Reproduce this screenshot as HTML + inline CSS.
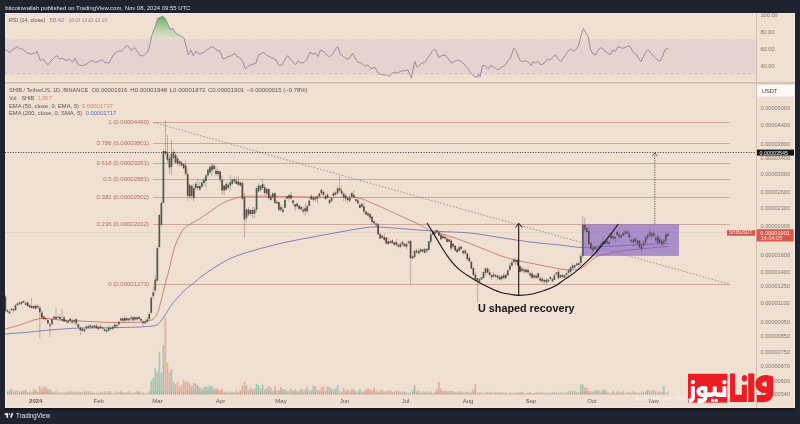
<!DOCTYPE html>
<html><head><meta charset="utf-8"><style>
html,body{margin:0;padding:0;}
body{width:800px;height:424px;overflow:hidden;background:#1f222f;position:relative;font-family:"Liberation Sans",Arial,sans-serif;}
svg{position:absolute;left:0;top:0;}
.hdr{font-size:5.95px;fill:#e2e3e8;}
.leg{font-size:5.9px;fill:#5e5650;}
.fib{font-size:6px;fill:#b56c66;}
.pax{font-size:5.6px;fill:#827770;}
.tax{font-size:6px;fill:#5e5650;}
</style></head><body>
<svg width="800" height="424" viewBox="0 0 800 424">
<defs>
<linearGradient id="rg" x1="0" y1="0" x2="0" y2="1"><stop offset="0" stop-color="#4fa855" stop-opacity="0.92"/><stop offset="1" stop-color="#b8dcb2" stop-opacity="0.25"/></linearGradient>
<clipPath id="mainclip"><rect x="5" y="83" width="751.5" height="312"/></clipPath>
</defs>
<rect x="0" y="0" width="800" height="424" fill="#1f222f"/>
<text x="5.2" y="9.8" textLength="185.2" lengthAdjust="spacingAndGlyphs" class="hdr">bitcoinwallah published on TradingView.com, Nov 08, 2024 09:55 UTC</text>
<rect x="5" y="13" width="790" height="395" fill="#f0e0d2"/>
<rect x="5.5" y="13.5" width="789" height="394" fill="none" stroke="#f5e9de" stroke-width="1"/>
<rect x="5" y="408" width="790" height="2.5" fill="#18191e"/>
<!-- RSI pane -->
<rect x="5" y="39.4" width="751.5" height="34.6" fill="#e4d4cf"/>
<line x1="5" y1="39.4" x2="756" y2="39.4" stroke="#dccabf" stroke-width="0.6" stroke-dasharray="2,4"/>

<line x1="5" y1="74" x2="756" y2="74" stroke="#cdb5ab" stroke-width="0.9" stroke-dasharray="2,4"/>
<path d="M148.6,39.4 L148.6,39.4 L151.9,35.1 L155.2,26.9 L157.7,18.6 L161.0,17.0 L162.7,16.1 L165.1,18.6 L167.6,23.6 L170.1,29.3 L172.6,28.5 L175.9,33.5 L177.5,34.3 L180.8,35.9 L184.1,38.4 L185.8,39.4 L186,39.4 Z" fill="url(#rg)"/>
<path d="M5.0,50.0 L6.6,50.0 L9.1,52.4 L12.4,50.0 L17.3,46.7 L19.8,49.1 L21.5,48.3 L26.4,52.4 L30.5,54.0 L34.7,53.3 L37.1,51.6 L40.4,60.7 L42.9,59.0 L47.9,64.8 L52.8,59.0 L56.9,55.7 L59.4,59.0 L62.7,58.2 L66.0,60.7 L69.3,59.0 L72.6,62.3 L75.1,58.2 L78.4,64.8 L82.5,65.6 L86.6,64.0 L89.9,61.5 L92.4,60.7 L94.9,62.3 L98.3,61.5 L102.4,59.9 L104.9,62.3 L109.0,63.2 L111.5,58.2 L114.0,54.1 L117.3,51.6 L119.8,50.8 L121.4,51.6 L123.9,48.3 L127.2,45.8 L129.7,47.5 L131.3,50.8 L134.6,47.5 L139.6,54.9 L142.9,56.2 L146.2,53.3 L148.6,50.0 L151.9,35.1 L155.2,26.9 L157.7,18.6 L161.0,17.0 L162.7,16.1 L165.1,18.6 L167.6,23.6 L170.1,29.3 L172.6,28.5 L175.9,33.5 L177.5,34.3 L180.8,35.9 L184.1,38.4 L185.8,45.0 L188.2,54.9 L190.7,49.9 L193.3,55.7 L195.8,51.6 L199.9,54.1 L204.9,51.6 L209.0,48.3 L212.3,46.7 L214.8,48.3 L217.2,50.8 L219.7,50.8 L223.0,59.0 L225.5,58.2 L228.0,56.6 L231.3,55.7 L234.6,53.3 L237.0,56.6 L239.5,57.4 L242.8,61.5 L245.3,68.9 L247.8,66.5 L251.1,64.8 L256.0,63.2 L258.5,54.9 L263.4,52.4 L267.6,55.7 L270.9,57.4 L275.8,59.9 L279.1,65.6 L282.4,64.8 L285.7,58.2 L287.5,55.7 L291.6,60.7 L295.7,64.8 L298.2,60.7 L300.7,63.2 L304.0,62.3 L307.3,59.0 L309.8,52.4 L313.0,54.1 L315.5,53.3 L318.0,56.6 L320.5,50.0 L323.8,51.6 L327.1,55.7 L329.6,56.6 L332.9,54.1 L335.3,49.1 L337.8,46.7 L340.3,54.1 L343.6,56.6 L346.9,59.0 L349.4,58.2 L352.7,53.3 L355.1,58.2 L358.4,62.3 L361.7,63.2 L365.0,66.5 L367.5,64.8 L370.8,68.9 L374.9,67.3 L379.0,73.9 L382.4,74.7 L387.4,75.2 L389.9,76.4 L392.4,73.0 L395.7,72.2 L397.3,73.0 L400.6,71.4 L403.1,70.6 L405.6,70.6 L408.0,69.8 L411.4,78.0 L414.7,61.5 L417.1,67.3 L420.4,64.0 L424.6,62.3 L428.7,56.6 L432.0,51.6 L434.5,49.1 L436.1,50.8 L438.6,57.4 L441.9,55.7 L445.2,54.9 L447.7,58.2 L451.8,63.2 L454.3,61.5 L457.6,59.9 L460.9,61.5 L464.2,64.0 L467.5,68.1 L470.8,73.0 L474.1,76.4 L477.4,77.2 L478.3,73.9 L480.0,77.2 L482.4,65.6 L484.9,65.6 L488.2,68.9 L490.7,65.6 L494.0,67.3 L498.1,69.8 L501.4,67.3 L504.7,65.6 L508.0,60.7 L510.5,58.2 L513.8,48.3 L516.3,50.8 L519.6,59.9 L522.0,61.5 L525.3,60.7 L528.6,62.3 L531.1,65.6 L532.8,61.5 L535.2,63.2 L537.7,61.5 L541.0,64.8 L544.3,63.2 L547.6,59.0 L550.1,59.9 L552.6,57.4 L555.0,54.9 L557.5,58.2 L560.8,61.5 L564.9,55.7 L568.2,50.8 L571.7,49.1 L574.1,51.6 L578.3,46.7 L580.7,36.8 L583.2,28.5 L585.7,32.6 L588.2,36.8 L590.6,50.0 L593.1,54.1 L595.6,54.9 L598.0,50.0 L601.4,47.5 L604.7,50.8 L608.0,53.3 L610.4,54.6 L612.9,50.0 L615.4,51.6 L617.9,46.7 L620.3,47.5 L622.8,48.3 L625.3,47.5 L627.8,45.8 L630.2,46.7 L633.5,52.4 L636.8,54.9 L638.5,58.2 L641.0,61.5 L643.4,56.6 L646.7,50.8 L648.4,50.0 L651.7,54.1 L655.8,58.2 L660.0,61.5 L662.4,56.6 L664.9,50.0 L667.4,48.3 L668.5,49.5" fill="none" stroke="#8a7a95" stroke-width="0.8" stroke-linejoin="round"/>
<text x="9.1" y="22" textLength="35.9" lengthAdjust="spacingAndGlyphs" class="leg">RSI (14, close)</text><text x="49.5" y="22" textLength="14.7" lengthAdjust="spacingAndGlyphs" class="leg" style="fill:#8a78aa">58.42</text><text x="68.5" y="21.8" textLength="38.0" lengthAdjust="spacingAndGlyphs" class="leg" style="font-size:5px;fill:#766c66">∅ ∅ ∅ ∅ ∅ ∅</text>
<line x1="5" y1="82.8" x2="795" y2="82.8" stroke="#c6b2a6" stroke-width="1.3"/>
<!-- price axis -->
<line x1="756.5" y1="13" x2="756.5" y2="408" stroke="#cdb9ad" stroke-width="0.8"/>
<text x="760.5" y="16.8" class="pax">100.00</text><text x="760.5" y="33.8" class="pax">80.00</text><text x="760.5" y="50.8" class="pax">60.00</text><text x="760.5" y="67.8" class="pax">40.00</text>
<rect x="757.5" y="85" width="36.5" height="11.5" fill="#fcf9f6"/>
<text x="762" y="92.6" class="pax" style="fill:#3a3330">USDT</text>
<text x="760.5" y="110.4" class="pax">0.00005000</text><text x="760.5" y="126.8" class="pax">0.00004400</text><text x="760.5" y="145.6" class="pax">0.00003800</text><text x="760.5" y="159.9" class="pax">0.00003400</text><text x="760.5" y="176.0" class="pax">0.00003000</text><text x="760.5" y="194.3" class="pax">0.00002600</text><text x="760.5" y="210.1" class="pax">0.00002300</text><text x="760.5" y="228.0" class="pax">0.00002000</text><text x="760.5" y="256.7" class="pax">0.00001600</text><text x="760.5" y="273.8" class="pax">0.00001400</text><text x="760.5" y="288.4" class="pax">0.00001250</text><text x="760.5" y="304.8" class="pax">0.00001100</text><text x="760.5" y="323.6" class="pax">0.00000950</text><text x="760.5" y="337.9" class="pax">0.00000850</text><text x="760.5" y="354.0" class="pax">0.00000750</text><text x="760.5" y="368.4" class="pax">0.00000670</text><text x="760.5" y="382.6" class="pax">0.00000600</text><text x="760.5" y="396.1" class="pax">0.00000540</text>
<!-- main legend -->
<text x="8.9" y="92.4" textLength="79.3" lengthAdjust="spacingAndGlyphs" class="leg">SHIB / TetherUS, 1D, BINANCE</text><text x="91.5" y="92.4" textLength="35.8" lengthAdjust="spacingAndGlyphs" class="leg">O0.00001916</text><text x="130.2" y="92.4" textLength="37.1" lengthAdjust="spacingAndGlyphs" class="leg">H0.00001948</text><text x="169.6" y="92.4" textLength="35.9" lengthAdjust="spacingAndGlyphs" class="leg">L0.00001872</text><text x="207.9" y="92.4" textLength="36.3" lengthAdjust="spacingAndGlyphs" class="leg">C0.00001901</text><text x="246.8" y="92.4" textLength="60.8" lengthAdjust="spacingAndGlyphs" class="leg">−0.00000015 (−0.78%)</text>
<text x="8.9" y="100.1" textLength="25.3" lengthAdjust="spacingAndGlyphs" class="leg">Vol · SHIB</text><text x="37.9" y="100.1" textLength="14.4" lengthAdjust="spacingAndGlyphs" class="leg" style="fill:#d9847a">1.99 T</text>
<text x="8.9" y="107.7" textLength="70.1" lengthAdjust="spacingAndGlyphs" class="leg">EMA (50, close, 0, EMA, 5)</text><text x="81.9" y="107.7" textLength="31.1" lengthAdjust="spacingAndGlyphs" class="leg" style="fill:#d9847a">0.00001737</text>
<text x="8.9" y="115.4" textLength="73.3" lengthAdjust="spacingAndGlyphs" class="leg">EMA (200, close, 0, SMA, 5)</text><text x="85.7" y="115.4" textLength="30.5" lengthAdjust="spacingAndGlyphs" class="leg" style="fill:#5b6bc0">0.00001717</text>
<!-- last price line -->
<line x1="5" y1="232.5" x2="756" y2="232.5" stroke="#e3d0c3" stroke-width="0.8"/>
<!-- fib -->
<line x1="153" y1="122.5" x2="730" y2="122.5" stroke="#c0968b" stroke-width="0.75"/><text x="149" y="124.3" text-anchor="end" class="fib">1 (0.00004490)</text><line x1="153" y1="143.5" x2="730" y2="143.5" stroke="#c0968b" stroke-width="0.75"/><text x="149" y="145.3" text-anchor="end" class="fib">0.786 (0.00003801)</text><line x1="153" y1="163.5" x2="730" y2="163.5" stroke="#c0968b" stroke-width="0.75"/><text x="149" y="165.3" text-anchor="end" class="fib">0.618 (0.00003261)</text><line x1="153" y1="179.5" x2="730" y2="179.5" stroke="#c0968b" stroke-width="0.75"/><text x="149" y="181.3" text-anchor="end" class="fib">0.5 (0.00002881)</text><line x1="153" y1="197.5" x2="730" y2="197.5" stroke="#c0968b" stroke-width="0.75"/><text x="149" y="199.3" text-anchor="end" class="fib">0.382 (0.00002502)</text><line x1="153" y1="224.5" x2="730" y2="224.5" stroke="#c0968b" stroke-width="0.75"/><text x="149" y="226.3" text-anchor="end" class="fib">0.236 (0.00002032)</text><line x1="153" y1="284.5" x2="730" y2="284.5" stroke="#c0968b" stroke-width="0.75"/><text x="149" y="286.3" text-anchor="end" class="fib">0 (0.00001273)</text>
<g clip-path="url(#mainclip)">
<!-- volume -->
<rect x="6.49" y="390.28" width="1.8" height="4.22" fill="#bfc4b4" opacity="0.85"/>
<rect x="6.99" y="392.39" width="0.8" height="2.11" fill="#a39186" opacity="0.6"/>
<rect x="8.51" y="389.94" width="1.8" height="4.56" fill="#98c4b3" opacity="0.85"/>
<rect x="9.01" y="392.22" width="0.8" height="2.28" fill="#a39186" opacity="0.6"/>
<rect x="10.54" y="388.64" width="1.8" height="5.86" fill="#e5a899" opacity="0.85"/>
<rect x="11.04" y="391.57" width="0.8" height="2.93" fill="#a39186" opacity="0.6"/>
<rect x="12.56" y="390.47" width="1.8" height="4.03" fill="#bfc4b4" opacity="0.85"/>
<rect x="13.06" y="392.48" width="0.8" height="2.02" fill="#a39186" opacity="0.6"/>
<rect x="14.59" y="390.39" width="1.8" height="4.11" fill="#bfc4b4" opacity="0.85"/>
<rect x="15.09" y="392.45" width="0.8" height="2.05" fill="#a39186" opacity="0.6"/>
<rect x="16.62" y="390.19" width="1.8" height="4.31" fill="#bfc4b4" opacity="0.85"/>
<rect x="17.12" y="392.34" width="0.8" height="2.16" fill="#a39186" opacity="0.6"/>
<rect x="18.64" y="391.69" width="1.8" height="2.81" fill="#bfc4b4" opacity="0.85"/>
<rect x="19.14" y="393.10" width="0.8" height="1.40" fill="#a39186" opacity="0.6"/>
<rect x="20.67" y="390.62" width="1.8" height="3.88" fill="#d9b2a4" opacity="0.85"/>
<rect x="21.17" y="392.56" width="0.8" height="1.94" fill="#a39186" opacity="0.6"/>
<rect x="22.69" y="390.30" width="1.8" height="4.20" fill="#d9b2a4" opacity="0.85"/>
<rect x="23.19" y="392.40" width="0.8" height="2.10" fill="#a39186" opacity="0.6"/>
<rect x="24.72" y="389.86" width="1.8" height="4.64" fill="#98c4b3" opacity="0.85"/>
<rect x="25.22" y="392.18" width="0.8" height="2.32" fill="#a39186" opacity="0.6"/>
<rect x="26.75" y="392.22" width="1.8" height="2.28" fill="#d9b2a4" opacity="0.85"/>
<rect x="27.25" y="393.36" width="0.8" height="1.14" fill="#a39186" opacity="0.6"/>
<rect x="28.77" y="391.61" width="1.8" height="2.89" fill="#d9b2a4" opacity="0.85"/>
<rect x="29.27" y="393.05" width="0.8" height="1.45" fill="#a39186" opacity="0.6"/>
<rect x="30.80" y="392.15" width="1.8" height="2.35" fill="#d9b2a4" opacity="0.85"/>
<rect x="31.30" y="393.32" width="0.8" height="1.18" fill="#a39186" opacity="0.6"/>
<rect x="32.82" y="389.39" width="1.8" height="5.11" fill="#e5a899" opacity="0.85"/>
<rect x="33.32" y="391.94" width="0.8" height="2.56" fill="#a39186" opacity="0.6"/>
<rect x="34.85" y="389.49" width="1.8" height="5.01" fill="#98c4b3" opacity="0.85"/>
<rect x="35.35" y="392.00" width="0.8" height="2.50" fill="#a39186" opacity="0.6"/>
<rect x="36.88" y="391.83" width="1.8" height="2.67" fill="#d9b2a4" opacity="0.85"/>
<rect x="37.38" y="393.17" width="0.8" height="1.33" fill="#a39186" opacity="0.6"/>
<rect x="38.90" y="386.00" width="1.8" height="8.50" fill="#e5a899" opacity="0.85"/>
<rect x="39.40" y="391.50" width="0.8" height="3.00" fill="#a39186" opacity="0.6"/>
<rect x="40.93" y="389.00" width="1.8" height="5.50" fill="#e5a899" opacity="0.85"/>
<rect x="41.43" y="391.75" width="0.8" height="2.75" fill="#a39186" opacity="0.6"/>
<rect x="42.95" y="386.83" width="1.8" height="7.67" fill="#e5a899" opacity="0.85"/>
<rect x="43.45" y="391.50" width="0.8" height="3.00" fill="#a39186" opacity="0.6"/>
<rect x="44.98" y="386.91" width="1.8" height="7.59" fill="#e5a899" opacity="0.85"/>
<rect x="45.48" y="391.50" width="0.8" height="3.00" fill="#a39186" opacity="0.6"/>
<rect x="47.01" y="388.79" width="1.8" height="5.71" fill="#e5a899" opacity="0.85"/>
<rect x="47.51" y="391.64" width="0.8" height="2.86" fill="#a39186" opacity="0.6"/>
<rect x="49.03" y="389.34" width="1.8" height="5.16" fill="#98c4b3" opacity="0.85"/>
<rect x="49.53" y="391.92" width="0.8" height="2.58" fill="#a39186" opacity="0.6"/>
<rect x="51.06" y="391.50" width="1.8" height="3.00" fill="#bfc4b4" opacity="0.85"/>
<rect x="51.56" y="393.00" width="0.8" height="1.50" fill="#a39186" opacity="0.6"/>
<rect x="53.08" y="392.24" width="1.8" height="2.26" fill="#d9b2a4" opacity="0.85"/>
<rect x="53.58" y="393.37" width="0.8" height="1.13" fill="#a39186" opacity="0.6"/>
<rect x="55.11" y="390.74" width="1.8" height="3.76" fill="#bfc4b4" opacity="0.85"/>
<rect x="55.61" y="392.62" width="0.8" height="1.88" fill="#a39186" opacity="0.6"/>
<rect x="57.14" y="392.49" width="1.8" height="2.01" fill="#bfc4b4" opacity="0.85"/>
<rect x="57.64" y="393.50" width="0.8" height="1.00" fill="#a39186" opacity="0.6"/>
<rect x="59.16" y="392.34" width="1.8" height="2.16" fill="#d9b2a4" opacity="0.85"/>
<rect x="59.66" y="393.42" width="0.8" height="1.08" fill="#a39186" opacity="0.6"/>
<rect x="61.19" y="392.22" width="1.8" height="2.28" fill="#bfc4b4" opacity="0.85"/>
<rect x="61.69" y="393.36" width="0.8" height="1.14" fill="#a39186" opacity="0.6"/>
<rect x="63.21" y="392.80" width="1.8" height="1.70" fill="#d9b2a4" opacity="0.85"/>
<rect x="63.71" y="393.65" width="0.8" height="0.85" fill="#a39186" opacity="0.6"/>
<rect x="65.24" y="391.67" width="1.8" height="2.83" fill="#bfc4b4" opacity="0.85"/>
<rect x="65.74" y="393.09" width="0.8" height="1.41" fill="#a39186" opacity="0.6"/>
<rect x="67.27" y="391.76" width="1.8" height="2.74" fill="#bfc4b4" opacity="0.85"/>
<rect x="67.77" y="393.13" width="0.8" height="1.37" fill="#a39186" opacity="0.6"/>
<rect x="69.29" y="390.74" width="1.8" height="3.76" fill="#d9b2a4" opacity="0.85"/>
<rect x="69.79" y="392.62" width="0.8" height="1.88" fill="#a39186" opacity="0.6"/>
<rect x="71.32" y="391.60" width="1.8" height="2.90" fill="#bfc4b4" opacity="0.85"/>
<rect x="71.82" y="393.05" width="0.8" height="1.45" fill="#a39186" opacity="0.6"/>
<rect x="73.34" y="391.32" width="1.8" height="3.18" fill="#bfc4b4" opacity="0.85"/>
<rect x="73.84" y="392.91" width="0.8" height="1.59" fill="#a39186" opacity="0.6"/>
<rect x="75.37" y="391.70" width="1.8" height="2.80" fill="#d9b2a4" opacity="0.85"/>
<rect x="75.87" y="393.10" width="0.8" height="1.40" fill="#a39186" opacity="0.6"/>
<rect x="77.40" y="391.32" width="1.8" height="3.18" fill="#d9b2a4" opacity="0.85"/>
<rect x="77.90" y="392.91" width="0.8" height="1.59" fill="#a39186" opacity="0.6"/>
<rect x="79.42" y="391.86" width="1.8" height="2.64" fill="#d9b2a4" opacity="0.85"/>
<rect x="79.92" y="393.18" width="0.8" height="1.32" fill="#a39186" opacity="0.6"/>
<rect x="81.45" y="392.32" width="1.8" height="2.18" fill="#d9b2a4" opacity="0.85"/>
<rect x="81.95" y="393.41" width="0.8" height="1.09" fill="#a39186" opacity="0.6"/>
<rect x="83.47" y="390.60" width="1.8" height="3.90" fill="#bfc4b4" opacity="0.85"/>
<rect x="83.97" y="392.55" width="0.8" height="1.95" fill="#a39186" opacity="0.6"/>
<rect x="85.50" y="390.64" width="1.8" height="3.86" fill="#bfc4b4" opacity="0.85"/>
<rect x="86.00" y="392.57" width="0.8" height="1.93" fill="#a39186" opacity="0.6"/>
<rect x="87.53" y="391.05" width="1.8" height="3.45" fill="#bfc4b4" opacity="0.85"/>
<rect x="88.03" y="392.77" width="0.8" height="1.73" fill="#a39186" opacity="0.6"/>
<rect x="89.55" y="391.39" width="1.8" height="3.11" fill="#d9b2a4" opacity="0.85"/>
<rect x="90.05" y="392.95" width="0.8" height="1.55" fill="#a39186" opacity="0.6"/>
<rect x="91.58" y="392.34" width="1.8" height="2.16" fill="#bfc4b4" opacity="0.85"/>
<rect x="92.08" y="393.42" width="0.8" height="1.08" fill="#a39186" opacity="0.6"/>
<rect x="93.60" y="392.56" width="1.8" height="1.94" fill="#bfc4b4" opacity="0.85"/>
<rect x="94.10" y="393.53" width="0.8" height="0.97" fill="#a39186" opacity="0.6"/>
<rect x="95.63" y="392.44" width="1.8" height="2.06" fill="#d9b2a4" opacity="0.85"/>
<rect x="96.13" y="393.47" width="0.8" height="1.03" fill="#a39186" opacity="0.6"/>
<rect x="97.66" y="392.96" width="1.8" height="1.54" fill="#d9b2a4" opacity="0.85"/>
<rect x="98.16" y="393.73" width="0.8" height="0.77" fill="#a39186" opacity="0.6"/>
<rect x="99.68" y="391.40" width="1.8" height="3.10" fill="#d9b2a4" opacity="0.85"/>
<rect x="100.18" y="392.95" width="0.8" height="1.55" fill="#a39186" opacity="0.6"/>
<rect x="101.71" y="392.21" width="1.8" height="2.29" fill="#bfc4b4" opacity="0.85"/>
<rect x="102.21" y="393.36" width="0.8" height="1.14" fill="#a39186" opacity="0.6"/>
<rect x="103.73" y="391.19" width="1.8" height="3.31" fill="#bfc4b4" opacity="0.85"/>
<rect x="104.23" y="392.84" width="0.8" height="1.66" fill="#a39186" opacity="0.6"/>
<rect x="105.76" y="392.23" width="1.8" height="2.27" fill="#bfc4b4" opacity="0.85"/>
<rect x="106.26" y="393.36" width="0.8" height="1.14" fill="#a39186" opacity="0.6"/>
<rect x="107.79" y="390.91" width="1.8" height="3.59" fill="#bfc4b4" opacity="0.85"/>
<rect x="108.29" y="392.70" width="0.8" height="1.80" fill="#a39186" opacity="0.6"/>
<rect x="109.81" y="391.15" width="1.8" height="3.35" fill="#bfc4b4" opacity="0.85"/>
<rect x="110.31" y="392.82" width="0.8" height="1.68" fill="#a39186" opacity="0.6"/>
<rect x="111.84" y="393.09" width="1.8" height="1.41" fill="#bfc4b4" opacity="0.85"/>
<rect x="112.34" y="393.79" width="0.8" height="0.71" fill="#a39186" opacity="0.6"/>
<rect x="113.86" y="392.60" width="1.8" height="1.90" fill="#bfc4b4" opacity="0.85"/>
<rect x="114.36" y="393.55" width="0.8" height="0.95" fill="#a39186" opacity="0.6"/>
<rect x="115.89" y="390.96" width="1.8" height="3.54" fill="#bfc4b4" opacity="0.85"/>
<rect x="116.39" y="392.73" width="0.8" height="1.77" fill="#a39186" opacity="0.6"/>
<rect x="117.92" y="391.98" width="1.8" height="2.52" fill="#bfc4b4" opacity="0.85"/>
<rect x="118.42" y="393.24" width="0.8" height="1.26" fill="#a39186" opacity="0.6"/>
<rect x="119.94" y="390.77" width="1.8" height="3.73" fill="#d9b2a4" opacity="0.85"/>
<rect x="120.44" y="392.63" width="0.8" height="1.87" fill="#a39186" opacity="0.6"/>
<rect x="121.97" y="392.13" width="1.8" height="2.37" fill="#bfc4b4" opacity="0.85"/>
<rect x="122.47" y="393.31" width="0.8" height="1.19" fill="#a39186" opacity="0.6"/>
<rect x="123.99" y="392.88" width="1.8" height="1.62" fill="#d9b2a4" opacity="0.85"/>
<rect x="124.49" y="393.69" width="0.8" height="0.81" fill="#a39186" opacity="0.6"/>
<rect x="126.02" y="391.56" width="1.8" height="2.94" fill="#bfc4b4" opacity="0.85"/>
<rect x="126.52" y="393.03" width="0.8" height="1.47" fill="#a39186" opacity="0.6"/>
<rect x="128.05" y="391.19" width="1.8" height="3.31" fill="#bfc4b4" opacity="0.85"/>
<rect x="128.55" y="392.85" width="0.8" height="1.65" fill="#a39186" opacity="0.6"/>
<rect x="130.07" y="392.40" width="1.8" height="2.10" fill="#d9b2a4" opacity="0.85"/>
<rect x="130.57" y="393.45" width="0.8" height="1.05" fill="#a39186" opacity="0.6"/>
<rect x="132.10" y="392.83" width="1.8" height="1.67" fill="#bfc4b4" opacity="0.85"/>
<rect x="132.60" y="393.66" width="0.8" height="0.84" fill="#a39186" opacity="0.6"/>
<rect x="134.12" y="392.23" width="1.8" height="2.27" fill="#d9b2a4" opacity="0.85"/>
<rect x="134.62" y="393.36" width="0.8" height="1.14" fill="#a39186" opacity="0.6"/>
<rect x="136.15" y="390.69" width="1.8" height="3.81" fill="#bfc4b4" opacity="0.85"/>
<rect x="136.65" y="392.60" width="0.8" height="1.90" fill="#a39186" opacity="0.6"/>
<rect x="138.18" y="391.18" width="1.8" height="3.32" fill="#d9b2a4" opacity="0.85"/>
<rect x="138.68" y="392.84" width="0.8" height="1.66" fill="#a39186" opacity="0.6"/>
<rect x="140.20" y="392.73" width="1.8" height="1.77" fill="#d9b2a4" opacity="0.85"/>
<rect x="140.70" y="393.61" width="0.8" height="0.89" fill="#a39186" opacity="0.6"/>
<rect x="142.23" y="392.42" width="1.8" height="2.08" fill="#d9b2a4" opacity="0.85"/>
<rect x="142.73" y="393.46" width="0.8" height="1.04" fill="#a39186" opacity="0.6"/>
<rect x="144.25" y="392.77" width="1.8" height="1.73" fill="#bfc4b4" opacity="0.85"/>
<rect x="144.75" y="393.63" width="0.8" height="0.87" fill="#a39186" opacity="0.6"/>
<rect x="146.28" y="392.87" width="1.8" height="1.63" fill="#bfc4b4" opacity="0.85"/>
<rect x="146.78" y="393.68" width="0.8" height="0.82" fill="#a39186" opacity="0.6"/>
<rect x="148.31" y="390.40" width="1.8" height="4.10" fill="#bfc4b4" opacity="0.85"/>
<rect x="148.81" y="392.45" width="0.8" height="2.05" fill="#a39186" opacity="0.6"/>
<rect x="150.33" y="380.80" width="1.8" height="13.70" fill="#98c4b3" opacity="0.85"/>
<rect x="150.83" y="391.50" width="0.8" height="3.00" fill="#a39186" opacity="0.6"/>
<rect x="152.36" y="378.00" width="1.8" height="16.50" fill="#98c4b3" opacity="0.85"/>
<rect x="152.86" y="391.50" width="0.8" height="3.00" fill="#a39186" opacity="0.6"/>
<rect x="154.38" y="368.40" width="1.8" height="26.10" fill="#98c4b3" opacity="0.85"/>
<rect x="154.88" y="391.50" width="0.8" height="3.00" fill="#a39186" opacity="0.6"/>
<rect x="156.41" y="372.50" width="1.8" height="22.00" fill="#98c4b3" opacity="0.85"/>
<rect x="156.91" y="391.50" width="0.8" height="3.00" fill="#a39186" opacity="0.6"/>
<rect x="158.44" y="351.90" width="1.8" height="42.60" fill="#98c4b3" opacity="0.85"/>
<rect x="158.94" y="391.50" width="0.8" height="3.00" fill="#a39186" opacity="0.6"/>
<rect x="160.46" y="372.50" width="1.8" height="22.00" fill="#98c4b3" opacity="0.85"/>
<rect x="160.96" y="391.50" width="0.8" height="3.00" fill="#a39186" opacity="0.6"/>
<rect x="162.49" y="345.00" width="1.8" height="49.50" fill="#98c4b3" opacity="0.85"/>
<rect x="162.99" y="391.50" width="0.8" height="3.00" fill="#a39186" opacity="0.6"/>
<rect x="164.51" y="318.00" width="1.8" height="76.50" fill="#e5a899" opacity="0.85"/>
<rect x="165.01" y="391.50" width="0.8" height="3.00" fill="#a39186" opacity="0.6"/>
<rect x="166.54" y="362.90" width="1.8" height="31.60" fill="#e5a899" opacity="0.85"/>
<rect x="167.04" y="391.50" width="0.8" height="3.00" fill="#a39186" opacity="0.6"/>
<rect x="168.57" y="372.50" width="1.8" height="22.00" fill="#e5a899" opacity="0.85"/>
<rect x="169.07" y="391.50" width="0.8" height="3.00" fill="#a39186" opacity="0.6"/>
<rect x="170.59" y="369.00" width="1.8" height="25.50" fill="#98c4b3" opacity="0.85"/>
<rect x="171.09" y="391.50" width="0.8" height="3.00" fill="#a39186" opacity="0.6"/>
<rect x="172.62" y="382.00" width="1.8" height="12.50" fill="#98c4b3" opacity="0.85"/>
<rect x="173.12" y="391.50" width="0.8" height="3.00" fill="#a39186" opacity="0.6"/>
<rect x="174.64" y="384.00" width="1.8" height="10.50" fill="#e5a899" opacity="0.85"/>
<rect x="175.14" y="391.50" width="0.8" height="3.00" fill="#a39186" opacity="0.6"/>
<rect x="176.67" y="382.00" width="1.8" height="12.50" fill="#e5a899" opacity="0.85"/>
<rect x="177.17" y="391.50" width="0.8" height="3.00" fill="#a39186" opacity="0.6"/>
<rect x="178.70" y="386.30" width="1.8" height="8.20" fill="#e5a899" opacity="0.85"/>
<rect x="179.20" y="391.50" width="0.8" height="3.00" fill="#a39186" opacity="0.6"/>
<rect x="180.72" y="385.00" width="1.8" height="9.50" fill="#e5a899" opacity="0.85"/>
<rect x="181.22" y="391.50" width="0.8" height="3.00" fill="#a39186" opacity="0.6"/>
<rect x="182.75" y="380.00" width="1.8" height="14.50" fill="#e5a899" opacity="0.85"/>
<rect x="183.25" y="391.50" width="0.8" height="3.00" fill="#a39186" opacity="0.6"/>
<rect x="184.77" y="382.00" width="1.8" height="12.50" fill="#e5a899" opacity="0.85"/>
<rect x="185.27" y="391.50" width="0.8" height="3.00" fill="#a39186" opacity="0.6"/>
<rect x="186.80" y="381.50" width="1.8" height="13.00" fill="#e5a899" opacity="0.85"/>
<rect x="187.30" y="391.50" width="0.8" height="3.00" fill="#a39186" opacity="0.6"/>
<rect x="188.83" y="383.50" width="1.8" height="11.00" fill="#e5a899" opacity="0.85"/>
<rect x="189.33" y="391.50" width="0.8" height="3.00" fill="#a39186" opacity="0.6"/>
<rect x="190.85" y="386.00" width="1.8" height="8.50" fill="#98c4b3" opacity="0.85"/>
<rect x="191.35" y="391.50" width="0.8" height="3.00" fill="#a39186" opacity="0.6"/>
<rect x="192.88" y="382.80" width="1.8" height="11.70" fill="#e5a899" opacity="0.85"/>
<rect x="193.38" y="391.50" width="0.8" height="3.00" fill="#a39186" opacity="0.6"/>
<rect x="194.90" y="383.50" width="1.8" height="11.00" fill="#98c4b3" opacity="0.85"/>
<rect x="195.40" y="391.50" width="0.8" height="3.00" fill="#a39186" opacity="0.6"/>
<rect x="196.93" y="385.00" width="1.8" height="9.50" fill="#98c4b3" opacity="0.85"/>
<rect x="197.43" y="391.50" width="0.8" height="3.00" fill="#a39186" opacity="0.6"/>
<rect x="198.96" y="387.60" width="1.8" height="6.90" fill="#e5a899" opacity="0.85"/>
<rect x="199.46" y="391.50" width="0.8" height="3.00" fill="#a39186" opacity="0.6"/>
<rect x="200.98" y="389.00" width="1.8" height="5.50" fill="#98c4b3" opacity="0.85"/>
<rect x="201.48" y="391.75" width="0.8" height="2.75" fill="#a39186" opacity="0.6"/>
<rect x="203.01" y="387.00" width="1.8" height="7.50" fill="#98c4b3" opacity="0.85"/>
<rect x="203.51" y="391.50" width="0.8" height="3.00" fill="#a39186" opacity="0.6"/>
<rect x="205.03" y="386.30" width="1.8" height="8.20" fill="#98c4b3" opacity="0.85"/>
<rect x="205.53" y="391.50" width="0.8" height="3.00" fill="#a39186" opacity="0.6"/>
<rect x="207.06" y="387.00" width="1.8" height="7.50" fill="#98c4b3" opacity="0.85"/>
<rect x="207.56" y="391.50" width="0.8" height="3.00" fill="#a39186" opacity="0.6"/>
<rect x="209.09" y="385.60" width="1.8" height="8.90" fill="#98c4b3" opacity="0.85"/>
<rect x="209.59" y="391.50" width="0.8" height="3.00" fill="#a39186" opacity="0.6"/>
<rect x="211.11" y="386.30" width="1.8" height="8.20" fill="#98c4b3" opacity="0.85"/>
<rect x="211.61" y="391.50" width="0.8" height="3.00" fill="#a39186" opacity="0.6"/>
<rect x="213.14" y="389.00" width="1.8" height="5.50" fill="#e5a899" opacity="0.85"/>
<rect x="213.64" y="391.75" width="0.8" height="2.75" fill="#a39186" opacity="0.6"/>
<rect x="215.16" y="387.60" width="1.8" height="6.90" fill="#e5a899" opacity="0.85"/>
<rect x="215.66" y="391.50" width="0.8" height="3.00" fill="#a39186" opacity="0.6"/>
<rect x="217.19" y="389.00" width="1.8" height="5.50" fill="#e5a899" opacity="0.85"/>
<rect x="217.69" y="391.75" width="0.8" height="2.75" fill="#a39186" opacity="0.6"/>
<rect x="219.22" y="390.40" width="1.8" height="4.10" fill="#d9b2a4" opacity="0.85"/>
<rect x="219.72" y="392.45" width="0.8" height="2.05" fill="#a39186" opacity="0.6"/>
<rect x="221.24" y="389.00" width="1.8" height="5.50" fill="#e5a899" opacity="0.85"/>
<rect x="221.74" y="391.75" width="0.8" height="2.75" fill="#a39186" opacity="0.6"/>
<rect x="223.27" y="391.80" width="1.8" height="2.70" fill="#d9b2a4" opacity="0.85"/>
<rect x="223.77" y="393.15" width="0.8" height="1.35" fill="#a39186" opacity="0.6"/>
<rect x="225.29" y="391.06" width="1.8" height="3.44" fill="#bfc4b4" opacity="0.85"/>
<rect x="225.79" y="392.78" width="0.8" height="1.72" fill="#a39186" opacity="0.6"/>
<rect x="227.32" y="392.44" width="1.8" height="2.06" fill="#bfc4b4" opacity="0.85"/>
<rect x="227.82" y="393.47" width="0.8" height="1.03" fill="#a39186" opacity="0.6"/>
<rect x="229.35" y="391.24" width="1.8" height="3.26" fill="#bfc4b4" opacity="0.85"/>
<rect x="229.85" y="392.87" width="0.8" height="1.63" fill="#a39186" opacity="0.6"/>
<rect x="231.37" y="391.37" width="1.8" height="3.13" fill="#bfc4b4" opacity="0.85"/>
<rect x="231.87" y="392.94" width="0.8" height="1.56" fill="#a39186" opacity="0.6"/>
<rect x="233.40" y="392.00" width="1.8" height="2.50" fill="#bfc4b4" opacity="0.85"/>
<rect x="233.90" y="393.25" width="0.8" height="1.25" fill="#a39186" opacity="0.6"/>
<rect x="235.42" y="390.08" width="1.8" height="4.42" fill="#d9b2a4" opacity="0.85"/>
<rect x="235.92" y="392.29" width="0.8" height="2.21" fill="#a39186" opacity="0.6"/>
<rect x="237.45" y="391.93" width="1.8" height="2.57" fill="#d9b2a4" opacity="0.85"/>
<rect x="237.95" y="393.22" width="0.8" height="1.28" fill="#a39186" opacity="0.6"/>
<rect x="239.48" y="389.83" width="1.8" height="4.67" fill="#e5a899" opacity="0.85"/>
<rect x="239.98" y="392.17" width="0.8" height="2.33" fill="#a39186" opacity="0.6"/>
<rect x="241.50" y="386.00" width="1.8" height="8.50" fill="#e5a899" opacity="0.85"/>
<rect x="242.00" y="391.50" width="0.8" height="3.00" fill="#a39186" opacity="0.6"/>
<rect x="243.53" y="382.00" width="1.8" height="12.50" fill="#e5a899" opacity="0.85"/>
<rect x="244.03" y="391.50" width="0.8" height="3.00" fill="#a39186" opacity="0.6"/>
<rect x="245.55" y="385.00" width="1.8" height="9.50" fill="#98c4b3" opacity="0.85"/>
<rect x="246.05" y="391.50" width="0.8" height="3.00" fill="#a39186" opacity="0.6"/>
<rect x="247.58" y="389.94" width="1.8" height="4.56" fill="#e5a899" opacity="0.85"/>
<rect x="248.08" y="392.22" width="0.8" height="2.28" fill="#a39186" opacity="0.6"/>
<rect x="249.61" y="387.53" width="1.8" height="6.97" fill="#e5a899" opacity="0.85"/>
<rect x="250.11" y="391.50" width="0.8" height="3.00" fill="#a39186" opacity="0.6"/>
<rect x="251.63" y="388.94" width="1.8" height="5.56" fill="#e5a899" opacity="0.85"/>
<rect x="252.13" y="391.72" width="0.8" height="2.78" fill="#a39186" opacity="0.6"/>
<rect x="253.66" y="388.55" width="1.8" height="5.95" fill="#98c4b3" opacity="0.85"/>
<rect x="254.16" y="391.53" width="0.8" height="2.97" fill="#a39186" opacity="0.6"/>
<rect x="255.68" y="383.82" width="1.8" height="10.68" fill="#98c4b3" opacity="0.85"/>
<rect x="256.18" y="391.50" width="0.8" height="3.00" fill="#a39186" opacity="0.6"/>
<rect x="257.71" y="384.95" width="1.8" height="9.55" fill="#98c4b3" opacity="0.85"/>
<rect x="258.21" y="391.50" width="0.8" height="3.00" fill="#a39186" opacity="0.6"/>
<rect x="259.74" y="388.32" width="1.8" height="6.18" fill="#98c4b3" opacity="0.85"/>
<rect x="260.24" y="391.50" width="0.8" height="3.00" fill="#a39186" opacity="0.6"/>
<rect x="261.76" y="384.54" width="1.8" height="9.96" fill="#98c4b3" opacity="0.85"/>
<rect x="262.26" y="391.50" width="0.8" height="3.00" fill="#a39186" opacity="0.6"/>
<rect x="263.79" y="389.26" width="1.8" height="5.24" fill="#e5a899" opacity="0.85"/>
<rect x="264.29" y="391.88" width="0.8" height="2.62" fill="#a39186" opacity="0.6"/>
<rect x="265.81" y="388.37" width="1.8" height="6.13" fill="#98c4b3" opacity="0.85"/>
<rect x="266.31" y="391.50" width="0.8" height="3.00" fill="#a39186" opacity="0.6"/>
<rect x="267.84" y="385.98" width="1.8" height="8.52" fill="#e5a899" opacity="0.85"/>
<rect x="268.34" y="391.50" width="0.8" height="3.00" fill="#a39186" opacity="0.6"/>
<rect x="269.87" y="387.56" width="1.8" height="6.94" fill="#98c4b3" opacity="0.85"/>
<rect x="270.37" y="391.50" width="0.8" height="3.00" fill="#a39186" opacity="0.6"/>
<rect x="271.89" y="390.76" width="1.8" height="3.74" fill="#bfc4b4" opacity="0.85"/>
<rect x="272.39" y="392.63" width="0.8" height="1.87" fill="#a39186" opacity="0.6"/>
<rect x="273.92" y="386.54" width="1.8" height="7.96" fill="#e5a899" opacity="0.85"/>
<rect x="274.42" y="391.50" width="0.8" height="3.00" fill="#a39186" opacity="0.6"/>
<rect x="275.94" y="390.31" width="1.8" height="4.19" fill="#bfc4b4" opacity="0.85"/>
<rect x="276.44" y="392.41" width="0.8" height="2.09" fill="#a39186" opacity="0.6"/>
<rect x="277.97" y="389.96" width="1.8" height="4.54" fill="#e5a899" opacity="0.85"/>
<rect x="278.47" y="392.23" width="0.8" height="2.27" fill="#a39186" opacity="0.6"/>
<rect x="280.00" y="387.09" width="1.8" height="7.41" fill="#e5a899" opacity="0.85"/>
<rect x="280.50" y="391.50" width="0.8" height="3.00" fill="#a39186" opacity="0.6"/>
<rect x="282.02" y="389.33" width="1.8" height="5.17" fill="#98c4b3" opacity="0.85"/>
<rect x="282.52" y="391.92" width="0.8" height="2.58" fill="#a39186" opacity="0.6"/>
<rect x="284.05" y="389.38" width="1.8" height="5.12" fill="#98c4b3" opacity="0.85"/>
<rect x="284.55" y="391.94" width="0.8" height="2.56" fill="#a39186" opacity="0.6"/>
<rect x="286.07" y="390.54" width="1.8" height="3.96" fill="#d9b2a4" opacity="0.85"/>
<rect x="286.57" y="392.52" width="0.8" height="1.98" fill="#a39186" opacity="0.6"/>
<rect x="288.10" y="390.56" width="1.8" height="3.94" fill="#bfc4b4" opacity="0.85"/>
<rect x="288.60" y="392.53" width="0.8" height="1.97" fill="#a39186" opacity="0.6"/>
<rect x="290.13" y="388.33" width="1.8" height="6.17" fill="#e5a899" opacity="0.85"/>
<rect x="290.63" y="391.50" width="0.8" height="3.00" fill="#a39186" opacity="0.6"/>
<rect x="292.15" y="390.47" width="1.8" height="4.03" fill="#d9b2a4" opacity="0.85"/>
<rect x="292.65" y="392.49" width="0.8" height="2.01" fill="#a39186" opacity="0.6"/>
<rect x="294.18" y="389.34" width="1.8" height="5.16" fill="#98c4b3" opacity="0.85"/>
<rect x="294.68" y="391.92" width="0.8" height="2.58" fill="#a39186" opacity="0.6"/>
<rect x="296.20" y="390.76" width="1.8" height="3.74" fill="#d9b2a4" opacity="0.85"/>
<rect x="296.70" y="392.63" width="0.8" height="1.87" fill="#a39186" opacity="0.6"/>
<rect x="298.23" y="390.94" width="1.8" height="3.56" fill="#d9b2a4" opacity="0.85"/>
<rect x="298.73" y="392.72" width="0.8" height="1.78" fill="#a39186" opacity="0.6"/>
<rect x="300.26" y="389.06" width="1.8" height="5.44" fill="#98c4b3" opacity="0.85"/>
<rect x="300.76" y="391.78" width="0.8" height="2.72" fill="#a39186" opacity="0.6"/>
<rect x="302.28" y="390.11" width="1.8" height="4.39" fill="#bfc4b4" opacity="0.85"/>
<rect x="302.78" y="392.31" width="0.8" height="2.19" fill="#a39186" opacity="0.6"/>
<rect x="304.31" y="389.10" width="1.8" height="5.40" fill="#e5a899" opacity="0.85"/>
<rect x="304.81" y="391.80" width="0.8" height="2.70" fill="#a39186" opacity="0.6"/>
<rect x="306.33" y="386.96" width="1.8" height="7.54" fill="#98c4b3" opacity="0.85"/>
<rect x="306.83" y="391.50" width="0.8" height="3.00" fill="#a39186" opacity="0.6"/>
<rect x="308.36" y="390.01" width="1.8" height="4.49" fill="#bfc4b4" opacity="0.85"/>
<rect x="308.86" y="392.26" width="0.8" height="2.24" fill="#a39186" opacity="0.6"/>
<rect x="310.39" y="390.07" width="1.8" height="4.43" fill="#d9b2a4" opacity="0.85"/>
<rect x="310.89" y="392.28" width="0.8" height="2.22" fill="#a39186" opacity="0.6"/>
<rect x="312.41" y="385.84" width="1.8" height="8.66" fill="#98c4b3" opacity="0.85"/>
<rect x="312.91" y="391.50" width="0.8" height="3.00" fill="#a39186" opacity="0.6"/>
<rect x="314.44" y="386.48" width="1.8" height="8.02" fill="#98c4b3" opacity="0.85"/>
<rect x="314.94" y="391.50" width="0.8" height="3.00" fill="#a39186" opacity="0.6"/>
<rect x="316.46" y="389.75" width="1.8" height="4.75" fill="#e5a899" opacity="0.85"/>
<rect x="316.96" y="392.13" width="0.8" height="2.37" fill="#a39186" opacity="0.6"/>
<rect x="318.49" y="390.15" width="1.8" height="4.35" fill="#d9b2a4" opacity="0.85"/>
<rect x="318.99" y="392.33" width="0.8" height="2.17" fill="#a39186" opacity="0.6"/>
<rect x="320.52" y="387.29" width="1.8" height="7.21" fill="#e5a899" opacity="0.85"/>
<rect x="321.02" y="391.50" width="0.8" height="3.00" fill="#a39186" opacity="0.6"/>
<rect x="322.54" y="386.36" width="1.8" height="8.14" fill="#e5a899" opacity="0.85"/>
<rect x="323.04" y="391.50" width="0.8" height="3.00" fill="#a39186" opacity="0.6"/>
<rect x="324.57" y="390.34" width="1.8" height="4.16" fill="#bfc4b4" opacity="0.85"/>
<rect x="325.07" y="392.42" width="0.8" height="2.08" fill="#a39186" opacity="0.6"/>
<rect x="326.59" y="386.60" width="1.8" height="7.90" fill="#e5a899" opacity="0.85"/>
<rect x="327.09" y="391.50" width="0.8" height="3.00" fill="#a39186" opacity="0.6"/>
<rect x="328.62" y="387.08" width="1.8" height="7.42" fill="#98c4b3" opacity="0.85"/>
<rect x="329.12" y="391.50" width="0.8" height="3.00" fill="#a39186" opacity="0.6"/>
<rect x="330.65" y="388.60" width="1.8" height="5.90" fill="#98c4b3" opacity="0.85"/>
<rect x="331.15" y="391.55" width="0.8" height="2.95" fill="#a39186" opacity="0.6"/>
<rect x="332.67" y="389.61" width="1.8" height="4.89" fill="#e5a899" opacity="0.85"/>
<rect x="333.17" y="392.06" width="0.8" height="2.44" fill="#a39186" opacity="0.6"/>
<rect x="334.70" y="388.00" width="1.8" height="6.50" fill="#98c4b3" opacity="0.85"/>
<rect x="335.20" y="391.50" width="0.8" height="3.00" fill="#a39186" opacity="0.6"/>
<rect x="336.72" y="385.00" width="1.8" height="9.50" fill="#98c4b3" opacity="0.85"/>
<rect x="337.22" y="391.50" width="0.8" height="3.00" fill="#a39186" opacity="0.6"/>
<rect x="338.75" y="391.37" width="1.8" height="3.13" fill="#bfc4b4" opacity="0.85"/>
<rect x="339.25" y="392.94" width="0.8" height="1.56" fill="#a39186" opacity="0.6"/>
<rect x="340.78" y="391.74" width="1.8" height="2.76" fill="#d9b2a4" opacity="0.85"/>
<rect x="341.28" y="393.12" width="0.8" height="1.38" fill="#a39186" opacity="0.6"/>
<rect x="342.80" y="388.00" width="1.8" height="6.50" fill="#e5a899" opacity="0.85"/>
<rect x="343.30" y="391.50" width="0.8" height="3.00" fill="#a39186" opacity="0.6"/>
<rect x="344.83" y="391.05" width="1.8" height="3.45" fill="#d9b2a4" opacity="0.85"/>
<rect x="345.33" y="392.78" width="0.8" height="1.72" fill="#a39186" opacity="0.6"/>
<rect x="346.85" y="389.13" width="1.8" height="5.37" fill="#e5a899" opacity="0.85"/>
<rect x="347.35" y="391.82" width="0.8" height="2.68" fill="#a39186" opacity="0.6"/>
<rect x="348.88" y="390.94" width="1.8" height="3.56" fill="#bfc4b4" opacity="0.85"/>
<rect x="349.38" y="392.72" width="0.8" height="1.78" fill="#a39186" opacity="0.6"/>
<rect x="350.91" y="388.58" width="1.8" height="5.92" fill="#e5a899" opacity="0.85"/>
<rect x="351.41" y="391.54" width="0.8" height="2.96" fill="#a39186" opacity="0.6"/>
<rect x="352.93" y="389.49" width="1.8" height="5.01" fill="#98c4b3" opacity="0.85"/>
<rect x="353.43" y="391.99" width="0.8" height="2.51" fill="#a39186" opacity="0.6"/>
<rect x="354.96" y="390.73" width="1.8" height="3.77" fill="#bfc4b4" opacity="0.85"/>
<rect x="355.46" y="392.61" width="0.8" height="1.89" fill="#a39186" opacity="0.6"/>
<rect x="356.98" y="391.20" width="1.8" height="3.30" fill="#d9b2a4" opacity="0.85"/>
<rect x="357.48" y="392.85" width="0.8" height="1.65" fill="#a39186" opacity="0.6"/>
<rect x="359.01" y="388.88" width="1.8" height="5.62" fill="#98c4b3" opacity="0.85"/>
<rect x="359.51" y="391.69" width="0.8" height="2.81" fill="#a39186" opacity="0.6"/>
<rect x="361.04" y="391.62" width="1.8" height="2.88" fill="#d9b2a4" opacity="0.85"/>
<rect x="361.54" y="393.06" width="0.8" height="1.44" fill="#a39186" opacity="0.6"/>
<rect x="363.06" y="390.92" width="1.8" height="3.58" fill="#d9b2a4" opacity="0.85"/>
<rect x="363.56" y="392.71" width="0.8" height="1.79" fill="#a39186" opacity="0.6"/>
<rect x="365.09" y="389.48" width="1.8" height="5.02" fill="#e5a899" opacity="0.85"/>
<rect x="365.59" y="391.99" width="0.8" height="2.51" fill="#a39186" opacity="0.6"/>
<rect x="367.11" y="388.19" width="1.8" height="6.31" fill="#e5a899" opacity="0.85"/>
<rect x="367.61" y="391.50" width="0.8" height="3.00" fill="#a39186" opacity="0.6"/>
<rect x="369.14" y="389.19" width="1.8" height="5.31" fill="#e5a899" opacity="0.85"/>
<rect x="369.64" y="391.85" width="0.8" height="2.65" fill="#a39186" opacity="0.6"/>
<rect x="371.17" y="390.62" width="1.8" height="3.88" fill="#d9b2a4" opacity="0.85"/>
<rect x="371.67" y="392.56" width="0.8" height="1.94" fill="#a39186" opacity="0.6"/>
<rect x="373.19" y="387.81" width="1.8" height="6.69" fill="#e5a899" opacity="0.85"/>
<rect x="373.69" y="391.50" width="0.8" height="3.00" fill="#a39186" opacity="0.6"/>
<rect x="375.22" y="390.91" width="1.8" height="3.59" fill="#bfc4b4" opacity="0.85"/>
<rect x="375.72" y="392.71" width="0.8" height="1.79" fill="#a39186" opacity="0.6"/>
<rect x="377.24" y="391.72" width="1.8" height="2.78" fill="#d9b2a4" opacity="0.85"/>
<rect x="377.74" y="393.11" width="0.8" height="1.39" fill="#a39186" opacity="0.6"/>
<rect x="379.27" y="390.59" width="1.8" height="3.91" fill="#d9b2a4" opacity="0.85"/>
<rect x="379.77" y="392.54" width="0.8" height="1.96" fill="#a39186" opacity="0.6"/>
<rect x="381.30" y="389.78" width="1.8" height="4.72" fill="#e5a899" opacity="0.85"/>
<rect x="381.80" y="392.14" width="0.8" height="2.36" fill="#a39186" opacity="0.6"/>
<rect x="383.32" y="391.48" width="1.8" height="3.02" fill="#d9b2a4" opacity="0.85"/>
<rect x="383.82" y="392.99" width="0.8" height="1.51" fill="#a39186" opacity="0.6"/>
<rect x="385.35" y="391.10" width="1.8" height="3.40" fill="#d9b2a4" opacity="0.85"/>
<rect x="385.85" y="392.80" width="0.8" height="1.70" fill="#a39186" opacity="0.6"/>
<rect x="387.37" y="390.57" width="1.8" height="3.93" fill="#bfc4b4" opacity="0.85"/>
<rect x="387.87" y="392.54" width="0.8" height="1.96" fill="#a39186" opacity="0.6"/>
<rect x="389.40" y="390.12" width="1.8" height="4.38" fill="#d9b2a4" opacity="0.85"/>
<rect x="389.90" y="392.31" width="0.8" height="2.19" fill="#a39186" opacity="0.6"/>
<rect x="391.43" y="391.97" width="1.8" height="2.53" fill="#d9b2a4" opacity="0.85"/>
<rect x="391.93" y="393.24" width="0.8" height="1.26" fill="#a39186" opacity="0.6"/>
<rect x="393.45" y="391.49" width="1.8" height="3.01" fill="#d9b2a4" opacity="0.85"/>
<rect x="393.95" y="392.99" width="0.8" height="1.51" fill="#a39186" opacity="0.6"/>
<rect x="395.48" y="390.30" width="1.8" height="4.20" fill="#d9b2a4" opacity="0.85"/>
<rect x="395.98" y="392.40" width="0.8" height="2.10" fill="#a39186" opacity="0.6"/>
<rect x="397.50" y="390.54" width="1.8" height="3.96" fill="#d9b2a4" opacity="0.85"/>
<rect x="398.00" y="392.52" width="0.8" height="1.98" fill="#a39186" opacity="0.6"/>
<rect x="399.53" y="391.60" width="1.8" height="2.90" fill="#bfc4b4" opacity="0.85"/>
<rect x="400.03" y="393.05" width="0.8" height="1.45" fill="#a39186" opacity="0.6"/>
<rect x="401.56" y="391.28" width="1.8" height="3.22" fill="#d9b2a4" opacity="0.85"/>
<rect x="402.06" y="392.89" width="0.8" height="1.61" fill="#a39186" opacity="0.6"/>
<rect x="403.58" y="391.33" width="1.8" height="3.17" fill="#d9b2a4" opacity="0.85"/>
<rect x="404.08" y="392.91" width="0.8" height="1.59" fill="#a39186" opacity="0.6"/>
<rect x="405.61" y="392.37" width="1.8" height="2.13" fill="#bfc4b4" opacity="0.85"/>
<rect x="406.11" y="393.43" width="0.8" height="1.07" fill="#a39186" opacity="0.6"/>
<rect x="407.63" y="392.55" width="1.8" height="1.95" fill="#bfc4b4" opacity="0.85"/>
<rect x="408.13" y="393.52" width="0.8" height="0.98" fill="#a39186" opacity="0.6"/>
<rect x="409.66" y="392.53" width="1.8" height="1.97" fill="#d9b2a4" opacity="0.85"/>
<rect x="410.16" y="393.52" width="0.8" height="0.98" fill="#a39186" opacity="0.6"/>
<rect x="411.69" y="389.88" width="1.8" height="4.62" fill="#98c4b3" opacity="0.85"/>
<rect x="412.19" y="392.19" width="0.8" height="2.31" fill="#a39186" opacity="0.6"/>
<rect x="413.71" y="385.00" width="1.8" height="9.50" fill="#98c4b3" opacity="0.85"/>
<rect x="414.21" y="391.50" width="0.8" height="3.00" fill="#a39186" opacity="0.6"/>
<rect x="415.74" y="390.76" width="1.8" height="3.74" fill="#d9b2a4" opacity="0.85"/>
<rect x="416.24" y="392.63" width="0.8" height="1.87" fill="#a39186" opacity="0.6"/>
<rect x="417.76" y="390.16" width="1.8" height="4.34" fill="#bfc4b4" opacity="0.85"/>
<rect x="418.26" y="392.33" width="0.8" height="2.17" fill="#a39186" opacity="0.6"/>
<rect x="419.79" y="392.81" width="1.8" height="1.69" fill="#d9b2a4" opacity="0.85"/>
<rect x="420.29" y="393.66" width="0.8" height="0.84" fill="#a39186" opacity="0.6"/>
<rect x="421.82" y="391.28" width="1.8" height="3.22" fill="#d9b2a4" opacity="0.85"/>
<rect x="422.32" y="392.89" width="0.8" height="1.61" fill="#a39186" opacity="0.6"/>
<rect x="423.84" y="391.78" width="1.8" height="2.72" fill="#bfc4b4" opacity="0.85"/>
<rect x="424.34" y="393.14" width="0.8" height="1.36" fill="#a39186" opacity="0.6"/>
<rect x="425.87" y="391.29" width="1.8" height="3.21" fill="#bfc4b4" opacity="0.85"/>
<rect x="426.37" y="392.89" width="0.8" height="1.61" fill="#a39186" opacity="0.6"/>
<rect x="427.89" y="392.36" width="1.8" height="2.14" fill="#bfc4b4" opacity="0.85"/>
<rect x="428.39" y="393.43" width="0.8" height="1.07" fill="#a39186" opacity="0.6"/>
<rect x="429.92" y="390.84" width="1.8" height="3.66" fill="#bfc4b4" opacity="0.85"/>
<rect x="430.42" y="392.67" width="0.8" height="1.83" fill="#a39186" opacity="0.6"/>
<rect x="431.95" y="392.90" width="1.8" height="1.60" fill="#bfc4b4" opacity="0.85"/>
<rect x="432.45" y="393.70" width="0.8" height="0.80" fill="#a39186" opacity="0.6"/>
<rect x="433.97" y="391.73" width="1.8" height="2.77" fill="#bfc4b4" opacity="0.85"/>
<rect x="434.47" y="393.11" width="0.8" height="1.39" fill="#a39186" opacity="0.6"/>
<rect x="436.00" y="389.00" width="1.8" height="5.50" fill="#e5a899" opacity="0.85"/>
<rect x="436.50" y="391.75" width="0.8" height="2.75" fill="#a39186" opacity="0.6"/>
<rect x="438.02" y="382.00" width="1.8" height="12.50" fill="#e5a899" opacity="0.85"/>
<rect x="438.52" y="391.50" width="0.8" height="3.00" fill="#a39186" opacity="0.6"/>
<rect x="440.05" y="388.50" width="1.8" height="6.00" fill="#e5a899" opacity="0.85"/>
<rect x="440.55" y="391.50" width="0.8" height="3.00" fill="#a39186" opacity="0.6"/>
<rect x="442.08" y="390.94" width="1.8" height="3.56" fill="#d9b2a4" opacity="0.85"/>
<rect x="442.58" y="392.72" width="0.8" height="1.78" fill="#a39186" opacity="0.6"/>
<rect x="444.10" y="390.42" width="1.8" height="4.08" fill="#d9b2a4" opacity="0.85"/>
<rect x="444.60" y="392.46" width="0.8" height="2.04" fill="#a39186" opacity="0.6"/>
<rect x="446.13" y="390.96" width="1.8" height="3.54" fill="#d9b2a4" opacity="0.85"/>
<rect x="446.63" y="392.73" width="0.8" height="1.77" fill="#a39186" opacity="0.6"/>
<rect x="448.15" y="391.14" width="1.8" height="3.36" fill="#d9b2a4" opacity="0.85"/>
<rect x="448.65" y="392.82" width="0.8" height="1.68" fill="#a39186" opacity="0.6"/>
<rect x="450.18" y="391.02" width="1.8" height="3.48" fill="#d9b2a4" opacity="0.85"/>
<rect x="450.68" y="392.76" width="0.8" height="1.74" fill="#a39186" opacity="0.6"/>
<rect x="452.21" y="390.82" width="1.8" height="3.68" fill="#d9b2a4" opacity="0.85"/>
<rect x="452.71" y="392.66" width="0.8" height="1.84" fill="#a39186" opacity="0.6"/>
<rect x="454.23" y="392.25" width="1.8" height="2.25" fill="#d9b2a4" opacity="0.85"/>
<rect x="454.73" y="393.38" width="0.8" height="1.12" fill="#a39186" opacity="0.6"/>
<rect x="456.26" y="391.57" width="1.8" height="2.93" fill="#bfc4b4" opacity="0.85"/>
<rect x="456.76" y="393.03" width="0.8" height="1.47" fill="#a39186" opacity="0.6"/>
<rect x="458.28" y="391.19" width="1.8" height="3.31" fill="#bfc4b4" opacity="0.85"/>
<rect x="458.78" y="392.84" width="0.8" height="1.66" fill="#a39186" opacity="0.6"/>
<rect x="460.31" y="391.36" width="1.8" height="3.14" fill="#d9b2a4" opacity="0.85"/>
<rect x="460.81" y="392.93" width="0.8" height="1.57" fill="#a39186" opacity="0.6"/>
<rect x="462.34" y="392.40" width="1.8" height="2.10" fill="#bfc4b4" opacity="0.85"/>
<rect x="462.84" y="393.45" width="0.8" height="1.05" fill="#a39186" opacity="0.6"/>
<rect x="464.36" y="391.74" width="1.8" height="2.76" fill="#d9b2a4" opacity="0.85"/>
<rect x="464.86" y="393.12" width="0.8" height="1.38" fill="#a39186" opacity="0.6"/>
<rect x="466.39" y="391.70" width="1.8" height="2.80" fill="#d9b2a4" opacity="0.85"/>
<rect x="466.89" y="393.10" width="0.8" height="1.40" fill="#a39186" opacity="0.6"/>
<rect x="468.41" y="392.34" width="1.8" height="2.16" fill="#d9b2a4" opacity="0.85"/>
<rect x="468.91" y="393.42" width="0.8" height="1.08" fill="#a39186" opacity="0.6"/>
<rect x="470.44" y="392.28" width="1.8" height="2.22" fill="#d9b2a4" opacity="0.85"/>
<rect x="470.94" y="393.39" width="0.8" height="1.11" fill="#a39186" opacity="0.6"/>
<rect x="472.47" y="389.00" width="1.8" height="5.50" fill="#e5a899" opacity="0.85"/>
<rect x="472.97" y="391.75" width="0.8" height="2.75" fill="#a39186" opacity="0.6"/>
<rect x="474.49" y="384.00" width="1.8" height="10.50" fill="#e5a899" opacity="0.85"/>
<rect x="474.99" y="391.50" width="0.8" height="3.00" fill="#a39186" opacity="0.6"/>
<rect x="476.52" y="392.71" width="1.8" height="1.79" fill="#d9b2a4" opacity="0.85"/>
<rect x="477.02" y="393.61" width="0.8" height="0.89" fill="#a39186" opacity="0.6"/>
<rect x="478.54" y="392.35" width="1.8" height="2.15" fill="#bfc4b4" opacity="0.85"/>
<rect x="479.04" y="393.43" width="0.8" height="1.07" fill="#a39186" opacity="0.6"/>
<rect x="480.57" y="392.30" width="1.8" height="2.20" fill="#bfc4b4" opacity="0.85"/>
<rect x="481.07" y="393.40" width="0.8" height="1.10" fill="#a39186" opacity="0.6"/>
<rect x="482.60" y="393.26" width="1.8" height="1.24" fill="#bfc4b4" opacity="0.85"/>
<rect x="483.10" y="393.88" width="0.8" height="0.62" fill="#a39186" opacity="0.6"/>
<rect x="484.62" y="392.25" width="1.8" height="2.25" fill="#bfc4b4" opacity="0.85"/>
<rect x="485.12" y="393.37" width="0.8" height="1.13" fill="#a39186" opacity="0.6"/>
<rect x="486.65" y="391.61" width="1.8" height="2.89" fill="#d9b2a4" opacity="0.85"/>
<rect x="487.15" y="393.06" width="0.8" height="1.44" fill="#a39186" opacity="0.6"/>
<rect x="488.67" y="391.82" width="1.8" height="2.68" fill="#d9b2a4" opacity="0.85"/>
<rect x="489.17" y="393.16" width="0.8" height="1.34" fill="#a39186" opacity="0.6"/>
<rect x="490.70" y="392.09" width="1.8" height="2.41" fill="#bfc4b4" opacity="0.85"/>
<rect x="491.20" y="393.29" width="0.8" height="1.21" fill="#a39186" opacity="0.6"/>
<rect x="492.73" y="392.70" width="1.8" height="1.80" fill="#d9b2a4" opacity="0.85"/>
<rect x="493.23" y="393.60" width="0.8" height="0.90" fill="#a39186" opacity="0.6"/>
<rect x="494.75" y="392.08" width="1.8" height="2.42" fill="#d9b2a4" opacity="0.85"/>
<rect x="495.25" y="393.29" width="0.8" height="1.21" fill="#a39186" opacity="0.6"/>
<rect x="496.78" y="392.35" width="1.8" height="2.15" fill="#d9b2a4" opacity="0.85"/>
<rect x="497.28" y="393.43" width="0.8" height="1.07" fill="#a39186" opacity="0.6"/>
<rect x="498.80" y="392.61" width="1.8" height="1.89" fill="#d9b2a4" opacity="0.85"/>
<rect x="499.30" y="393.55" width="0.8" height="0.95" fill="#a39186" opacity="0.6"/>
<rect x="500.83" y="391.89" width="1.8" height="2.61" fill="#bfc4b4" opacity="0.85"/>
<rect x="501.33" y="393.20" width="0.8" height="1.30" fill="#a39186" opacity="0.6"/>
<rect x="502.86" y="393.25" width="1.8" height="1.25" fill="#d9b2a4" opacity="0.85"/>
<rect x="503.36" y="393.87" width="0.8" height="0.63" fill="#a39186" opacity="0.6"/>
<rect x="504.88" y="392.05" width="1.8" height="2.45" fill="#bfc4b4" opacity="0.85"/>
<rect x="505.38" y="393.27" width="0.8" height="1.23" fill="#a39186" opacity="0.6"/>
<rect x="506.91" y="393.35" width="1.8" height="1.15" fill="#bfc4b4" opacity="0.85"/>
<rect x="507.41" y="393.92" width="0.8" height="0.58" fill="#a39186" opacity="0.6"/>
<rect x="508.93" y="392.32" width="1.8" height="2.18" fill="#bfc4b4" opacity="0.85"/>
<rect x="509.43" y="393.41" width="0.8" height="1.09" fill="#a39186" opacity="0.6"/>
<rect x="510.96" y="392.53" width="1.8" height="1.97" fill="#bfc4b4" opacity="0.85"/>
<rect x="511.46" y="393.52" width="0.8" height="0.98" fill="#a39186" opacity="0.6"/>
<rect x="512.99" y="392.99" width="1.8" height="1.51" fill="#bfc4b4" opacity="0.85"/>
<rect x="513.49" y="393.74" width="0.8" height="0.76" fill="#a39186" opacity="0.6"/>
<rect x="515.01" y="392.14" width="1.8" height="2.36" fill="#bfc4b4" opacity="0.85"/>
<rect x="515.51" y="393.32" width="0.8" height="1.18" fill="#a39186" opacity="0.6"/>
<rect x="517.04" y="392.50" width="1.8" height="2.00" fill="#d9b2a4" opacity="0.85"/>
<rect x="517.54" y="393.50" width="0.8" height="1.00" fill="#a39186" opacity="0.6"/>
<rect x="519.06" y="392.29" width="1.8" height="2.21" fill="#d9b2a4" opacity="0.85"/>
<rect x="519.56" y="393.40" width="0.8" height="1.10" fill="#a39186" opacity="0.6"/>
<rect x="521.09" y="391.74" width="1.8" height="2.76" fill="#d9b2a4" opacity="0.85"/>
<rect x="521.59" y="393.12" width="0.8" height="1.38" fill="#a39186" opacity="0.6"/>
<rect x="523.12" y="392.94" width="1.8" height="1.56" fill="#bfc4b4" opacity="0.85"/>
<rect x="523.62" y="393.72" width="0.8" height="0.78" fill="#a39186" opacity="0.6"/>
<rect x="525.14" y="393.38" width="1.8" height="1.12" fill="#d9b2a4" opacity="0.85"/>
<rect x="525.64" y="393.94" width="0.8" height="0.56" fill="#a39186" opacity="0.6"/>
<rect x="527.17" y="392.86" width="1.8" height="1.64" fill="#d9b2a4" opacity="0.85"/>
<rect x="527.67" y="393.68" width="0.8" height="0.82" fill="#a39186" opacity="0.6"/>
<rect x="529.19" y="392.18" width="1.8" height="2.32" fill="#bfc4b4" opacity="0.85"/>
<rect x="529.69" y="393.34" width="0.8" height="1.16" fill="#a39186" opacity="0.6"/>
<rect x="531.22" y="393.04" width="1.8" height="1.46" fill="#d9b2a4" opacity="0.85"/>
<rect x="531.72" y="393.77" width="0.8" height="0.73" fill="#a39186" opacity="0.6"/>
<rect x="533.25" y="393.09" width="1.8" height="1.41" fill="#d9b2a4" opacity="0.85"/>
<rect x="533.75" y="393.80" width="0.8" height="0.70" fill="#a39186" opacity="0.6"/>
<rect x="535.27" y="391.77" width="1.8" height="2.73" fill="#bfc4b4" opacity="0.85"/>
<rect x="535.77" y="393.13" width="0.8" height="1.37" fill="#a39186" opacity="0.6"/>
<rect x="537.30" y="392.21" width="1.8" height="2.29" fill="#d9b2a4" opacity="0.85"/>
<rect x="537.80" y="393.36" width="0.8" height="1.14" fill="#a39186" opacity="0.6"/>
<rect x="539.32" y="392.60" width="1.8" height="1.90" fill="#d9b2a4" opacity="0.85"/>
<rect x="539.82" y="393.55" width="0.8" height="0.95" fill="#a39186" opacity="0.6"/>
<rect x="541.35" y="391.79" width="1.8" height="2.71" fill="#d9b2a4" opacity="0.85"/>
<rect x="541.85" y="393.15" width="0.8" height="1.35" fill="#a39186" opacity="0.6"/>
<rect x="543.38" y="392.81" width="1.8" height="1.69" fill="#bfc4b4" opacity="0.85"/>
<rect x="543.88" y="393.66" width="0.8" height="0.84" fill="#a39186" opacity="0.6"/>
<rect x="545.40" y="392.20" width="1.8" height="2.30" fill="#bfc4b4" opacity="0.85"/>
<rect x="545.90" y="393.35" width="0.8" height="1.15" fill="#a39186" opacity="0.6"/>
<rect x="547.43" y="393.04" width="1.8" height="1.46" fill="#bfc4b4" opacity="0.85"/>
<rect x="547.93" y="393.77" width="0.8" height="0.73" fill="#a39186" opacity="0.6"/>
<rect x="549.45" y="392.62" width="1.8" height="1.88" fill="#bfc4b4" opacity="0.85"/>
<rect x="549.95" y="393.56" width="0.8" height="0.94" fill="#a39186" opacity="0.6"/>
<rect x="551.48" y="391.95" width="1.8" height="2.55" fill="#bfc4b4" opacity="0.85"/>
<rect x="551.98" y="393.22" width="0.8" height="1.28" fill="#a39186" opacity="0.6"/>
<rect x="553.51" y="391.75" width="1.8" height="2.75" fill="#bfc4b4" opacity="0.85"/>
<rect x="554.01" y="393.13" width="0.8" height="1.37" fill="#a39186" opacity="0.6"/>
<rect x="555.53" y="391.82" width="1.8" height="2.68" fill="#bfc4b4" opacity="0.85"/>
<rect x="556.03" y="393.16" width="0.8" height="1.34" fill="#a39186" opacity="0.6"/>
<rect x="557.56" y="392.71" width="1.8" height="1.79" fill="#d9b2a4" opacity="0.85"/>
<rect x="558.06" y="393.60" width="0.8" height="0.90" fill="#a39186" opacity="0.6"/>
<rect x="559.58" y="392.31" width="1.8" height="2.19" fill="#bfc4b4" opacity="0.85"/>
<rect x="560.08" y="393.41" width="0.8" height="1.09" fill="#a39186" opacity="0.6"/>
<rect x="561.61" y="392.67" width="1.8" height="1.83" fill="#d9b2a4" opacity="0.85"/>
<rect x="562.11" y="393.59" width="0.8" height="0.91" fill="#a39186" opacity="0.6"/>
<rect x="563.64" y="392.93" width="1.8" height="1.57" fill="#bfc4b4" opacity="0.85"/>
<rect x="564.14" y="393.71" width="0.8" height="0.79" fill="#a39186" opacity="0.6"/>
<rect x="565.66" y="392.02" width="1.8" height="2.48" fill="#bfc4b4" opacity="0.85"/>
<rect x="566.16" y="393.26" width="0.8" height="1.24" fill="#a39186" opacity="0.6"/>
<rect x="567.69" y="391.05" width="1.8" height="3.45" fill="#bfc4b4" opacity="0.85"/>
<rect x="568.19" y="392.78" width="0.8" height="1.72" fill="#a39186" opacity="0.6"/>
<rect x="569.71" y="390.83" width="1.8" height="3.67" fill="#bfc4b4" opacity="0.85"/>
<rect x="570.21" y="392.66" width="0.8" height="1.84" fill="#a39186" opacity="0.6"/>
<rect x="571.74" y="390.99" width="1.8" height="3.51" fill="#bfc4b4" opacity="0.85"/>
<rect x="572.24" y="392.75" width="0.8" height="1.75" fill="#a39186" opacity="0.6"/>
<rect x="573.77" y="390.14" width="1.8" height="4.36" fill="#bfc4b4" opacity="0.85"/>
<rect x="574.27" y="392.32" width="0.8" height="2.18" fill="#a39186" opacity="0.6"/>
<rect x="575.79" y="391.90" width="1.8" height="2.60" fill="#bfc4b4" opacity="0.85"/>
<rect x="576.29" y="393.20" width="0.8" height="1.30" fill="#a39186" opacity="0.6"/>
<rect x="577.82" y="392.11" width="1.8" height="2.39" fill="#d9b2a4" opacity="0.85"/>
<rect x="578.32" y="393.30" width="0.8" height="1.20" fill="#a39186" opacity="0.6"/>
<rect x="579.84" y="384.50" width="1.8" height="10.00" fill="#98c4b3" opacity="0.85"/>
<rect x="580.34" y="391.50" width="0.8" height="3.00" fill="#a39186" opacity="0.6"/>
<rect x="581.87" y="384.50" width="1.8" height="10.00" fill="#98c4b3" opacity="0.85"/>
<rect x="582.37" y="391.50" width="0.8" height="3.00" fill="#a39186" opacity="0.6"/>
<rect x="583.90" y="387.50" width="1.8" height="7.00" fill="#e5a899" opacity="0.85"/>
<rect x="584.40" y="391.50" width="0.8" height="3.00" fill="#a39186" opacity="0.6"/>
<rect x="585.92" y="388.00" width="1.8" height="6.50" fill="#e5a899" opacity="0.85"/>
<rect x="586.42" y="391.50" width="0.8" height="3.00" fill="#a39186" opacity="0.6"/>
<rect x="587.95" y="390.59" width="1.8" height="3.91" fill="#d9b2a4" opacity="0.85"/>
<rect x="588.45" y="392.55" width="0.8" height="1.95" fill="#a39186" opacity="0.6"/>
<rect x="589.97" y="391.13" width="1.8" height="3.37" fill="#d9b2a4" opacity="0.85"/>
<rect x="590.47" y="392.81" width="0.8" height="1.69" fill="#a39186" opacity="0.6"/>
<rect x="592.00" y="391.26" width="1.8" height="3.24" fill="#bfc4b4" opacity="0.85"/>
<rect x="592.50" y="392.88" width="0.8" height="1.62" fill="#a39186" opacity="0.6"/>
<rect x="594.03" y="390.35" width="1.8" height="4.15" fill="#d9b2a4" opacity="0.85"/>
<rect x="594.53" y="392.43" width="0.8" height="2.07" fill="#a39186" opacity="0.6"/>
<rect x="596.05" y="389.71" width="1.8" height="4.79" fill="#98c4b3" opacity="0.85"/>
<rect x="596.55" y="392.10" width="0.8" height="2.40" fill="#a39186" opacity="0.6"/>
<rect x="598.08" y="390.42" width="1.8" height="4.08" fill="#bfc4b4" opacity="0.85"/>
<rect x="598.58" y="392.46" width="0.8" height="2.04" fill="#a39186" opacity="0.6"/>
<rect x="600.10" y="391.25" width="1.8" height="3.25" fill="#bfc4b4" opacity="0.85"/>
<rect x="600.60" y="392.87" width="0.8" height="1.63" fill="#a39186" opacity="0.6"/>
<rect x="602.13" y="389.67" width="1.8" height="4.83" fill="#e5a899" opacity="0.85"/>
<rect x="602.63" y="392.09" width="0.8" height="2.41" fill="#a39186" opacity="0.6"/>
<rect x="604.16" y="389.49" width="1.8" height="5.01" fill="#98c4b3" opacity="0.85"/>
<rect x="604.66" y="391.99" width="0.8" height="2.51" fill="#a39186" opacity="0.6"/>
<rect x="606.18" y="391.35" width="1.8" height="3.15" fill="#bfc4b4" opacity="0.85"/>
<rect x="606.68" y="392.92" width="0.8" height="1.58" fill="#a39186" opacity="0.6"/>
<rect x="608.21" y="392.59" width="1.8" height="1.91" fill="#bfc4b4" opacity="0.85"/>
<rect x="608.71" y="393.55" width="0.8" height="0.95" fill="#a39186" opacity="0.6"/>
<rect x="610.23" y="392.76" width="1.8" height="1.74" fill="#d9b2a4" opacity="0.85"/>
<rect x="610.73" y="393.63" width="0.8" height="0.87" fill="#a39186" opacity="0.6"/>
<rect x="612.26" y="390.49" width="1.8" height="4.01" fill="#d9b2a4" opacity="0.85"/>
<rect x="612.76" y="392.50" width="0.8" height="2.00" fill="#a39186" opacity="0.6"/>
<rect x="614.29" y="392.74" width="1.8" height="1.76" fill="#bfc4b4" opacity="0.85"/>
<rect x="614.79" y="393.62" width="0.8" height="0.88" fill="#a39186" opacity="0.6"/>
<rect x="616.31" y="390.94" width="1.8" height="3.56" fill="#d9b2a4" opacity="0.85"/>
<rect x="616.81" y="392.72" width="0.8" height="1.78" fill="#a39186" opacity="0.6"/>
<rect x="618.34" y="391.31" width="1.8" height="3.19" fill="#bfc4b4" opacity="0.85"/>
<rect x="618.84" y="392.90" width="0.8" height="1.60" fill="#a39186" opacity="0.6"/>
<rect x="620.36" y="392.02" width="1.8" height="2.48" fill="#d9b2a4" opacity="0.85"/>
<rect x="620.86" y="393.26" width="0.8" height="1.24" fill="#a39186" opacity="0.6"/>
<rect x="622.39" y="390.71" width="1.8" height="3.79" fill="#d9b2a4" opacity="0.85"/>
<rect x="622.89" y="392.61" width="0.8" height="1.89" fill="#a39186" opacity="0.6"/>
<rect x="624.42" y="392.80" width="1.8" height="1.70" fill="#bfc4b4" opacity="0.85"/>
<rect x="624.92" y="393.65" width="0.8" height="0.85" fill="#a39186" opacity="0.6"/>
<rect x="626.44" y="392.48" width="1.8" height="2.02" fill="#d9b2a4" opacity="0.85"/>
<rect x="626.94" y="393.49" width="0.8" height="1.01" fill="#a39186" opacity="0.6"/>
<rect x="628.47" y="391.62" width="1.8" height="2.88" fill="#d9b2a4" opacity="0.85"/>
<rect x="628.97" y="393.06" width="0.8" height="1.44" fill="#a39186" opacity="0.6"/>
<rect x="630.49" y="392.78" width="1.8" height="1.72" fill="#bfc4b4" opacity="0.85"/>
<rect x="630.99" y="393.64" width="0.8" height="0.86" fill="#a39186" opacity="0.6"/>
<rect x="632.52" y="390.61" width="1.8" height="3.89" fill="#bfc4b4" opacity="0.85"/>
<rect x="633.02" y="392.55" width="0.8" height="1.95" fill="#a39186" opacity="0.6"/>
<rect x="634.55" y="392.21" width="1.8" height="2.29" fill="#d9b2a4" opacity="0.85"/>
<rect x="635.05" y="393.35" width="0.8" height="1.15" fill="#a39186" opacity="0.6"/>
<rect x="636.57" y="392.47" width="1.8" height="2.03" fill="#bfc4b4" opacity="0.85"/>
<rect x="637.07" y="393.48" width="0.8" height="1.02" fill="#a39186" opacity="0.6"/>
<rect x="638.60" y="392.72" width="1.8" height="1.78" fill="#d9b2a4" opacity="0.85"/>
<rect x="639.10" y="393.61" width="0.8" height="0.89" fill="#a39186" opacity="0.6"/>
<rect x="640.62" y="391.12" width="1.8" height="3.38" fill="#bfc4b4" opacity="0.85"/>
<rect x="641.12" y="392.81" width="0.8" height="1.69" fill="#a39186" opacity="0.6"/>
<rect x="642.65" y="391.59" width="1.8" height="2.91" fill="#bfc4b4" opacity="0.85"/>
<rect x="643.15" y="393.04" width="0.8" height="1.46" fill="#a39186" opacity="0.6"/>
<rect x="644.68" y="391.04" width="1.8" height="3.46" fill="#bfc4b4" opacity="0.85"/>
<rect x="645.18" y="392.77" width="0.8" height="1.73" fill="#a39186" opacity="0.6"/>
<rect x="646.70" y="389.40" width="1.8" height="5.10" fill="#98c4b3" opacity="0.85"/>
<rect x="647.20" y="391.95" width="0.8" height="2.55" fill="#a39186" opacity="0.6"/>
<rect x="648.73" y="390.89" width="1.8" height="3.61" fill="#bfc4b4" opacity="0.85"/>
<rect x="649.23" y="392.70" width="0.8" height="1.80" fill="#a39186" opacity="0.6"/>
<rect x="650.75" y="390.41" width="1.8" height="4.09" fill="#bfc4b4" opacity="0.85"/>
<rect x="651.25" y="392.46" width="0.8" height="2.04" fill="#a39186" opacity="0.6"/>
<rect x="652.78" y="389.93" width="1.8" height="4.57" fill="#e5a899" opacity="0.85"/>
<rect x="653.28" y="392.21" width="0.8" height="2.29" fill="#a39186" opacity="0.6"/>
<rect x="654.81" y="390.69" width="1.8" height="3.81" fill="#bfc4b4" opacity="0.85"/>
<rect x="655.31" y="392.59" width="0.8" height="1.91" fill="#a39186" opacity="0.6"/>
<rect x="656.83" y="392.09" width="1.8" height="2.41" fill="#d9b2a4" opacity="0.85"/>
<rect x="657.33" y="393.29" width="0.8" height="1.21" fill="#a39186" opacity="0.6"/>
<rect x="658.86" y="391.23" width="1.8" height="3.27" fill="#d9b2a4" opacity="0.85"/>
<rect x="659.36" y="392.87" width="0.8" height="1.63" fill="#a39186" opacity="0.6"/>
<rect x="660.88" y="392.10" width="1.8" height="2.40" fill="#d9b2a4" opacity="0.85"/>
<rect x="661.38" y="393.30" width="0.8" height="1.20" fill="#a39186" opacity="0.6"/>
<rect x="662.91" y="386.00" width="1.8" height="8.50" fill="#98c4b3" opacity="0.85"/>
<rect x="663.41" y="391.50" width="0.8" height="3.00" fill="#a39186" opacity="0.6"/>
<rect x="664.94" y="392.57" width="1.8" height="1.93" fill="#bfc4b4" opacity="0.85"/>
<rect x="665.44" y="393.54" width="0.8" height="0.96" fill="#a39186" opacity="0.6"/>
<rect x="666.96" y="391.11" width="1.8" height="3.39" fill="#bfc4b4" opacity="0.85"/>
<rect x="667.46" y="392.80" width="0.8" height="1.70" fill="#a39186" opacity="0.6"/>
<!-- EMAs -->
<path d="M5.0,334.0 C9.2,333.7 22.5,332.7 30.0,332.0 C37.5,331.3 41.7,330.7 50.0,330.0 C58.3,329.3 70.0,328.4 80.0,328.0 C90.0,327.6 100.0,328.0 110.0,327.8 C120.0,327.6 134.2,327.2 140.0,327.0 C145.8,326.8 142.3,326.9 145.0,326.6 C147.7,326.3 153.5,326.4 156.3,325.2 C159.1,324.0 160.1,321.9 162.0,319.5 C163.9,317.1 165.7,313.8 167.6,311.0 C169.5,308.2 171.2,305.2 173.3,302.5 C175.4,299.8 178.5,296.9 180.4,294.8 C182.3,292.7 182.8,291.7 185.0,289.8 C187.2,287.9 190.7,285.5 193.5,283.2 C196.3,280.9 198.7,278.6 202.0,276.1 C205.3,273.6 209.1,271.0 213.3,268.3 C217.6,265.6 222.8,262.2 227.5,259.8 C232.2,257.4 237.0,255.8 241.7,254.1 C246.4,252.4 251.9,251.0 255.8,249.9 C259.7,248.8 260.2,248.5 265.0,247.3 C269.8,246.1 277.0,244.1 284.5,242.5 C292.0,240.9 300.8,239.2 310.0,237.5 C319.2,235.8 331.7,233.5 340.0,232.0 C348.3,230.5 354.2,229.3 360.0,228.5 C365.8,227.7 368.3,227.0 375.0,227.0 C381.7,227.0 392.7,228.0 400.0,228.5 C407.3,229.0 412.3,229.5 419.0,230.0 C425.7,230.5 431.5,231.0 440.0,231.5 C448.5,232.0 460.0,232.0 470.0,233.0 C480.0,234.0 490.0,236.0 500.0,237.5 C510.0,239.0 520.0,240.8 530.0,242.0 C540.0,243.2 551.5,244.1 560.0,245.0 C568.5,245.9 573.5,247.2 581.0,247.4 C588.5,247.7 596.0,246.9 605.0,246.5 C614.0,246.1 624.3,245.5 635.0,245.0 C645.7,244.5 663.3,243.8 669.0,243.5" fill="none" stroke="#6066b0" stroke-width="0.85" opacity="0.9"/>
<path d="M5.0,329.0 C7.5,328.3 14.2,326.7 20.0,325.0 C25.8,323.3 33.3,319.4 40.0,318.6 C46.7,317.8 53.3,319.6 60.0,320.0 C66.7,320.4 71.7,320.6 80.0,321.0 C88.3,321.4 100.0,322.2 110.0,322.4 C120.0,322.6 134.2,322.3 140.0,322.2 C145.8,322.1 142.8,322.2 145.0,321.6 C147.2,321.0 151.4,320.3 153.5,318.8 C155.6,317.3 156.5,315.1 157.7,312.4 C158.9,309.7 159.6,306.0 160.6,302.5 C161.6,299.0 162.5,295.0 163.4,291.2 C164.3,287.4 165.3,283.4 166.2,279.9 C167.1,276.4 167.7,275.1 169.0,270.0 C170.3,264.9 172.3,254.9 173.9,249.5 C175.5,244.1 177.0,241.0 178.6,237.7 C180.2,234.3 181.5,231.6 183.3,229.4 C185.1,227.2 187.2,226.0 189.2,224.7 C191.1,223.4 192.2,223.2 195.0,221.5 C197.8,219.8 201.4,217.6 206.0,214.5 C210.6,211.4 217.1,206.1 222.6,203.2 C228.1,200.3 234.7,198.5 239.0,197.3 C243.3,196.2 241.1,196.4 248.7,196.3 C256.3,196.2 271.1,196.3 284.5,196.5 C297.9,196.7 317.5,197.2 329.4,197.4 C341.3,197.6 348.6,196.3 356.0,197.4 C363.4,198.5 368.0,201.6 374.0,204.0 C380.0,206.4 384.5,208.6 392.0,212.0 C399.5,215.4 412.5,221.3 419.0,224.5 C425.5,227.7 427.5,229.5 431.0,231.0 C434.5,232.5 436.0,232.3 440.0,233.5 C444.0,234.7 450.0,236.3 455.0,238.0 C460.0,239.7 465.0,241.6 470.0,243.5 C475.0,245.4 480.0,247.5 485.0,249.5 C490.0,251.5 495.0,253.8 500.0,255.5 C505.0,257.2 510.0,258.8 515.0,260.0 C520.0,261.2 525.0,262.0 530.0,263.0 C535.0,264.0 540.0,265.0 545.0,266.0 C550.0,267.0 556.0,268.4 560.0,269.0 C564.0,269.6 565.5,269.8 569.0,269.7 C572.5,269.6 576.5,270.6 581.0,268.5 C585.5,266.4 591.5,259.4 596.0,257.0 C600.5,254.6 604.0,255.0 608.0,254.0 C612.0,253.0 613.0,252.0 620.0,251.0 C627.0,250.0 641.8,248.8 650.0,248.0 C658.2,247.2 665.8,246.8 669.0,246.5" fill="none" stroke="#c4625c" stroke-width="0.85" opacity="0.9"/>
<rect x="582" y="224.3" width="97" height="31.6" fill="#7d5ac4" fill-opacity="0.5"/>
<!-- candles -->
<line x1="5.36" y1="295.00" x2="5.36" y2="313.00" stroke="#5f4541" stroke-width="0.6" opacity="0.6"/>
<line x1="7.39" y1="308.90" x2="7.39" y2="312.40" stroke="#4d5b4e" stroke-width="0.6" opacity="0.6"/>
<line x1="9.41" y1="310.69" x2="9.41" y2="314.23" stroke="#4d5b4e" stroke-width="0.6" opacity="0.6"/>
<line x1="11.44" y1="308.17" x2="11.44" y2="310.59" stroke="#5f4541" stroke-width="0.6" opacity="0.6"/>
<line x1="13.46" y1="308.26" x2="13.46" y2="312.50" stroke="#4d5b4e" stroke-width="0.6" opacity="0.6"/>
<line x1="15.49" y1="304.24" x2="15.49" y2="311.09" stroke="#4d5b4e" stroke-width="0.6" opacity="0.6"/>
<line x1="17.52" y1="302.52" x2="17.52" y2="305.68" stroke="#4d5b4e" stroke-width="0.6" opacity="0.6"/>
<line x1="19.54" y1="301.51" x2="19.54" y2="304.85" stroke="#4d5b4e" stroke-width="0.6" opacity="0.6"/>
<line x1="21.57" y1="301.33" x2="21.57" y2="305.28" stroke="#5f4541" stroke-width="0.6" opacity="0.6"/>
<line x1="23.59" y1="300.27" x2="23.59" y2="302.79" stroke="#5f4541" stroke-width="0.6" opacity="0.6"/>
<line x1="25.62" y1="301.37" x2="25.62" y2="305.39" stroke="#4d5b4e" stroke-width="0.6" opacity="0.6"/>
<line x1="27.65" y1="301.38" x2="27.65" y2="307.00" stroke="#5f4541" stroke-width="0.6" opacity="0.6"/>
<line x1="29.67" y1="303.93" x2="29.67" y2="308.16" stroke="#5f4541" stroke-width="0.6" opacity="0.6"/>
<line x1="31.70" y1="298.00" x2="31.70" y2="308.55" stroke="#5f4541" stroke-width="0.6" opacity="0.6"/>
<line x1="33.72" y1="305.38" x2="33.72" y2="309.19" stroke="#5f4541" stroke-width="0.6" opacity="0.6"/>
<line x1="35.75" y1="304.31" x2="35.75" y2="309.22" stroke="#4d5b4e" stroke-width="0.6" opacity="0.6"/>
<line x1="37.78" y1="304.08" x2="37.78" y2="308.30" stroke="#5f4541" stroke-width="0.6" opacity="0.6"/>
<line x1="39.80" y1="305.78" x2="39.80" y2="338.00" stroke="#5f4541" stroke-width="0.6" opacity="0.6"/>
<line x1="41.83" y1="310.20" x2="41.83" y2="318.53" stroke="#5f4541" stroke-width="0.6" opacity="0.6"/>
<line x1="43.85" y1="315.90" x2="43.85" y2="320.44" stroke="#5f4541" stroke-width="0.6" opacity="0.6"/>
<line x1="45.88" y1="317.46" x2="45.88" y2="320.27" stroke="#5f4541" stroke-width="0.6" opacity="0.6"/>
<line x1="47.91" y1="319.05" x2="47.91" y2="324.18" stroke="#5f4541" stroke-width="0.6" opacity="0.6"/>
<line x1="49.93" y1="322.59" x2="49.93" y2="337.00" stroke="#4d5b4e" stroke-width="0.6" opacity="0.6"/>
<line x1="51.96" y1="318.55" x2="51.96" y2="324.94" stroke="#4d5b4e" stroke-width="0.6" opacity="0.6"/>
<line x1="53.98" y1="315.62" x2="53.98" y2="319.56" stroke="#5f4541" stroke-width="0.6" opacity="0.6"/>
<line x1="56.01" y1="308.00" x2="56.01" y2="319.61" stroke="#4d5b4e" stroke-width="0.6" opacity="0.6"/>
<line x1="58.04" y1="315.78" x2="58.04" y2="318.07" stroke="#4d5b4e" stroke-width="0.6" opacity="0.6"/>
<line x1="60.06" y1="314.65" x2="60.06" y2="319.76" stroke="#5f4541" stroke-width="0.6" opacity="0.6"/>
<line x1="62.09" y1="309.00" x2="62.09" y2="321.31" stroke="#4d5b4e" stroke-width="0.6" opacity="0.6"/>
<line x1="64.11" y1="316.07" x2="64.11" y2="321.99" stroke="#5f4541" stroke-width="0.6" opacity="0.6"/>
<line x1="66.14" y1="319.56" x2="66.14" y2="322.57" stroke="#4d5b4e" stroke-width="0.6" opacity="0.6"/>
<line x1="68.17" y1="319.93" x2="68.17" y2="323.24" stroke="#4d5b4e" stroke-width="0.6" opacity="0.6"/>
<line x1="70.19" y1="317.42" x2="70.19" y2="322.34" stroke="#5f4541" stroke-width="0.6" opacity="0.6"/>
<line x1="72.22" y1="318.88" x2="72.22" y2="323.46" stroke="#4d5b4e" stroke-width="0.6" opacity="0.6"/>
<line x1="74.24" y1="318.68" x2="74.24" y2="324.44" stroke="#4d5b4e" stroke-width="0.6" opacity="0.6"/>
<line x1="76.27" y1="318.16" x2="76.27" y2="325.24" stroke="#5f4541" stroke-width="0.6" opacity="0.6"/>
<line x1="78.30" y1="323.71" x2="78.30" y2="327.88" stroke="#5f4541" stroke-width="0.6" opacity="0.6"/>
<line x1="80.32" y1="327.08" x2="80.32" y2="335.00" stroke="#5f4541" stroke-width="0.6" opacity="0.6"/>
<line x1="82.35" y1="327.50" x2="82.35" y2="331.39" stroke="#5f4541" stroke-width="0.6" opacity="0.6"/>
<line x1="84.37" y1="328.89" x2="84.37" y2="332.24" stroke="#4d5b4e" stroke-width="0.6" opacity="0.6"/>
<line x1="86.40" y1="325.47" x2="86.40" y2="329.74" stroke="#4d5b4e" stroke-width="0.6" opacity="0.6"/>
<line x1="88.43" y1="324.37" x2="88.43" y2="329.20" stroke="#4d5b4e" stroke-width="0.6" opacity="0.6"/>
<line x1="90.45" y1="324.36" x2="90.45" y2="328.95" stroke="#5f4541" stroke-width="0.6" opacity="0.6"/>
<line x1="92.48" y1="324.98" x2="92.48" y2="328.50" stroke="#4d5b4e" stroke-width="0.6" opacity="0.6"/>
<line x1="94.50" y1="325.06" x2="94.50" y2="328.15" stroke="#4d5b4e" stroke-width="0.6" opacity="0.6"/>
<line x1="96.53" y1="323.87" x2="96.53" y2="329.44" stroke="#5f4541" stroke-width="0.6" opacity="0.6"/>
<line x1="98.56" y1="326.09" x2="98.56" y2="330.25" stroke="#5f4541" stroke-width="0.6" opacity="0.6"/>
<line x1="100.58" y1="323.69" x2="100.58" y2="328.79" stroke="#5f4541" stroke-width="0.6" opacity="0.6"/>
<line x1="102.61" y1="326.73" x2="102.61" y2="329.56" stroke="#4d5b4e" stroke-width="0.6" opacity="0.6"/>
<line x1="104.63" y1="328.63" x2="104.63" y2="332.02" stroke="#4d5b4e" stroke-width="0.6" opacity="0.6"/>
<line x1="106.66" y1="327.91" x2="106.66" y2="333.11" stroke="#4d5b4e" stroke-width="0.6" opacity="0.6"/>
<line x1="108.69" y1="325.89" x2="108.69" y2="331.17" stroke="#4d5b4e" stroke-width="0.6" opacity="0.6"/>
<line x1="110.71" y1="325.83" x2="110.71" y2="329.57" stroke="#4d5b4e" stroke-width="0.6" opacity="0.6"/>
<line x1="112.74" y1="326.17" x2="112.74" y2="330.25" stroke="#4d5b4e" stroke-width="0.6" opacity="0.6"/>
<line x1="114.76" y1="322.67" x2="114.76" y2="328.30" stroke="#4d5b4e" stroke-width="0.6" opacity="0.6"/>
<line x1="116.79" y1="324.42" x2="116.79" y2="327.74" stroke="#4d5b4e" stroke-width="0.6" opacity="0.6"/>
<line x1="118.82" y1="320.61" x2="118.82" y2="325.36" stroke="#4d5b4e" stroke-width="0.6" opacity="0.6"/>
<line x1="120.84" y1="317.17" x2="120.84" y2="321.13" stroke="#5f4541" stroke-width="0.6" opacity="0.6"/>
<line x1="122.87" y1="317.26" x2="122.87" y2="322.99" stroke="#4d5b4e" stroke-width="0.6" opacity="0.6"/>
<line x1="124.89" y1="315.43" x2="124.89" y2="321.78" stroke="#5f4541" stroke-width="0.6" opacity="0.6"/>
<line x1="126.92" y1="317.20" x2="126.92" y2="321.34" stroke="#4d5b4e" stroke-width="0.6" opacity="0.6"/>
<line x1="128.95" y1="317.75" x2="128.95" y2="322.72" stroke="#4d5b4e" stroke-width="0.6" opacity="0.6"/>
<line x1="130.97" y1="315.19" x2="130.97" y2="320.83" stroke="#5f4541" stroke-width="0.6" opacity="0.6"/>
<line x1="133.00" y1="316.10" x2="133.00" y2="321.29" stroke="#4d5b4e" stroke-width="0.6" opacity="0.6"/>
<line x1="135.02" y1="316.40" x2="135.02" y2="320.71" stroke="#5f4541" stroke-width="0.6" opacity="0.6"/>
<line x1="137.05" y1="316.71" x2="137.05" y2="320.57" stroke="#4d5b4e" stroke-width="0.6" opacity="0.6"/>
<line x1="139.08" y1="315.83" x2="139.08" y2="319.68" stroke="#5f4541" stroke-width="0.6" opacity="0.6"/>
<line x1="141.10" y1="317.89" x2="141.10" y2="321.92" stroke="#5f4541" stroke-width="0.6" opacity="0.6"/>
<line x1="143.13" y1="320.52" x2="143.13" y2="326.08" stroke="#5f4541" stroke-width="0.6" opacity="0.6"/>
<line x1="145.15" y1="319.36" x2="145.15" y2="324.14" stroke="#4d5b4e" stroke-width="0.6" opacity="0.6"/>
<line x1="147.18" y1="317.18" x2="147.18" y2="323.12" stroke="#4d5b4e" stroke-width="0.6" opacity="0.6"/>
<line x1="149.21" y1="312.13" x2="149.21" y2="321.22" stroke="#4d5b4e" stroke-width="0.6" opacity="0.6"/>
<line x1="151.23" y1="296.66" x2="151.23" y2="313.55" stroke="#4d5b4e" stroke-width="0.6" opacity="0.6"/>
<line x1="153.26" y1="286.99" x2="153.26" y2="298.99" stroke="#4d5b4e" stroke-width="0.6" opacity="0.6"/>
<line x1="155.28" y1="275.07" x2="155.28" y2="293.04" stroke="#4d5b4e" stroke-width="0.6" opacity="0.6"/>
<line x1="157.31" y1="245.70" x2="157.31" y2="281.60" stroke="#4d5b4e" stroke-width="0.6" opacity="0.6"/>
<line x1="159.34" y1="214.48" x2="159.34" y2="248.53" stroke="#4d5b4e" stroke-width="0.6" opacity="0.6"/>
<line x1="161.36" y1="200.91" x2="161.36" y2="226.02" stroke="#4d5b4e" stroke-width="0.6" opacity="0.6"/>
<line x1="163.39" y1="148.94" x2="163.39" y2="203.50" stroke="#4d5b4e" stroke-width="0.6" opacity="0.6"/>
<line x1="165.41" y1="120.00" x2="165.41" y2="154.95" stroke="#5f4541" stroke-width="0.6" opacity="0.6"/>
<line x1="167.44" y1="135.00" x2="167.44" y2="162.71" stroke="#5f4541" stroke-width="0.6" opacity="0.6"/>
<line x1="169.47" y1="155.30" x2="169.47" y2="174.00" stroke="#5f4541" stroke-width="0.6" opacity="0.6"/>
<line x1="171.49" y1="140.00" x2="171.49" y2="175.00" stroke="#4d5b4e" stroke-width="0.6" opacity="0.6"/>
<line x1="173.52" y1="149.07" x2="173.52" y2="161.06" stroke="#4d5b4e" stroke-width="0.6" opacity="0.6"/>
<line x1="175.54" y1="152.13" x2="175.54" y2="163.63" stroke="#5f4541" stroke-width="0.6" opacity="0.6"/>
<line x1="177.57" y1="155.71" x2="177.57" y2="166.25" stroke="#5f4541" stroke-width="0.6" opacity="0.6"/>
<line x1="179.60" y1="160.64" x2="179.60" y2="166.63" stroke="#5f4541" stroke-width="0.6" opacity="0.6"/>
<line x1="181.62" y1="160.53" x2="181.62" y2="166.01" stroke="#5f4541" stroke-width="0.6" opacity="0.6"/>
<line x1="183.65" y1="163.36" x2="183.65" y2="169.38" stroke="#5f4541" stroke-width="0.6" opacity="0.6"/>
<line x1="185.67" y1="160.45" x2="185.67" y2="176.45" stroke="#5f4541" stroke-width="0.6" opacity="0.6"/>
<line x1="187.70" y1="169.09" x2="187.70" y2="200.96" stroke="#5f4541" stroke-width="0.6" opacity="0.6"/>
<line x1="189.73" y1="183.88" x2="189.73" y2="198.69" stroke="#5f4541" stroke-width="0.6" opacity="0.6"/>
<line x1="191.75" y1="184.24" x2="191.75" y2="199.15" stroke="#4d5b4e" stroke-width="0.6" opacity="0.6"/>
<line x1="193.78" y1="183.53" x2="193.78" y2="201.59" stroke="#5f4541" stroke-width="0.6" opacity="0.6"/>
<line x1="195.80" y1="181.40" x2="195.80" y2="190.25" stroke="#4d5b4e" stroke-width="0.6" opacity="0.6"/>
<line x1="197.83" y1="178.70" x2="197.83" y2="190.95" stroke="#4d5b4e" stroke-width="0.6" opacity="0.6"/>
<line x1="199.86" y1="182.06" x2="199.86" y2="190.63" stroke="#5f4541" stroke-width="0.6" opacity="0.6"/>
<line x1="201.88" y1="179.77" x2="201.88" y2="187.56" stroke="#4d5b4e" stroke-width="0.6" opacity="0.6"/>
<line x1="203.91" y1="177.25" x2="203.91" y2="186.28" stroke="#4d5b4e" stroke-width="0.6" opacity="0.6"/>
<line x1="205.93" y1="173.87" x2="205.93" y2="187.31" stroke="#4d5b4e" stroke-width="0.6" opacity="0.6"/>
<line x1="207.96" y1="168.58" x2="207.96" y2="177.41" stroke="#4d5b4e" stroke-width="0.6" opacity="0.6"/>
<line x1="209.99" y1="164.03" x2="209.99" y2="174.28" stroke="#4d5b4e" stroke-width="0.6" opacity="0.6"/>
<line x1="212.01" y1="163.00" x2="212.01" y2="176.20" stroke="#4d5b4e" stroke-width="0.6" opacity="0.6"/>
<line x1="214.04" y1="163.74" x2="214.04" y2="171.28" stroke="#5f4541" stroke-width="0.6" opacity="0.6"/>
<line x1="216.06" y1="166.66" x2="216.06" y2="176.26" stroke="#5f4541" stroke-width="0.6" opacity="0.6"/>
<line x1="218.09" y1="168.81" x2="218.09" y2="176.53" stroke="#5f4541" stroke-width="0.6" opacity="0.6"/>
<line x1="220.12" y1="170.99" x2="220.12" y2="182.26" stroke="#5f4541" stroke-width="0.6" opacity="0.6"/>
<line x1="222.14" y1="175.54" x2="222.14" y2="195.05" stroke="#5f4541" stroke-width="0.6" opacity="0.6"/>
<line x1="224.17" y1="185.04" x2="224.17" y2="194.59" stroke="#5f4541" stroke-width="0.6" opacity="0.6"/>
<line x1="226.19" y1="181.14" x2="226.19" y2="190.60" stroke="#4d5b4e" stroke-width="0.6" opacity="0.6"/>
<line x1="228.22" y1="181.96" x2="228.22" y2="189.38" stroke="#4d5b4e" stroke-width="0.6" opacity="0.6"/>
<line x1="230.25" y1="174.81" x2="230.25" y2="190.77" stroke="#4d5b4e" stroke-width="0.6" opacity="0.6"/>
<line x1="232.27" y1="178.70" x2="232.27" y2="185.32" stroke="#4d5b4e" stroke-width="0.6" opacity="0.6"/>
<line x1="234.30" y1="175.89" x2="234.30" y2="183.47" stroke="#4d5b4e" stroke-width="0.6" opacity="0.6"/>
<line x1="236.32" y1="176.58" x2="236.32" y2="184.48" stroke="#5f4541" stroke-width="0.6" opacity="0.6"/>
<line x1="238.35" y1="176.24" x2="238.35" y2="186.69" stroke="#5f4541" stroke-width="0.6" opacity="0.6"/>
<line x1="240.38" y1="181.76" x2="240.38" y2="186.12" stroke="#5f4541" stroke-width="0.6" opacity="0.6"/>
<line x1="242.40" y1="180.74" x2="242.40" y2="199.63" stroke="#5f4541" stroke-width="0.6" opacity="0.6"/>
<line x1="244.43" y1="192.87" x2="244.43" y2="238.00" stroke="#5f4541" stroke-width="0.6" opacity="0.6"/>
<line x1="246.45" y1="208.16" x2="246.45" y2="222.53" stroke="#4d5b4e" stroke-width="0.6" opacity="0.6"/>
<line x1="248.48" y1="207.31" x2="248.48" y2="216.32" stroke="#5f4541" stroke-width="0.6" opacity="0.6"/>
<line x1="250.51" y1="208.99" x2="250.51" y2="215.86" stroke="#5f4541" stroke-width="0.6" opacity="0.6"/>
<line x1="252.53" y1="206.87" x2="252.53" y2="217.98" stroke="#5f4541" stroke-width="0.6" opacity="0.6"/>
<line x1="254.56" y1="207.13" x2="254.56" y2="217.99" stroke="#4d5b4e" stroke-width="0.6" opacity="0.6"/>
<line x1="256.58" y1="186.57" x2="256.58" y2="212.82" stroke="#4d5b4e" stroke-width="0.6" opacity="0.6"/>
<line x1="258.61" y1="182.88" x2="258.61" y2="192.58" stroke="#4d5b4e" stroke-width="0.6" opacity="0.6"/>
<line x1="260.64" y1="185.05" x2="260.64" y2="192.32" stroke="#4d5b4e" stroke-width="0.6" opacity="0.6"/>
<line x1="262.66" y1="179.24" x2="262.66" y2="190.22" stroke="#4d5b4e" stroke-width="0.6" opacity="0.6"/>
<line x1="264.69" y1="184.14" x2="264.69" y2="196.59" stroke="#5f4541" stroke-width="0.6" opacity="0.6"/>
<line x1="266.71" y1="187.10" x2="266.71" y2="195.06" stroke="#4d5b4e" stroke-width="0.6" opacity="0.6"/>
<line x1="268.74" y1="188.28" x2="268.74" y2="200.02" stroke="#5f4541" stroke-width="0.6" opacity="0.6"/>
<line x1="270.77" y1="193.89" x2="270.77" y2="200.87" stroke="#4d5b4e" stroke-width="0.6" opacity="0.6"/>
<line x1="272.79" y1="192.29" x2="272.79" y2="199.19" stroke="#4d5b4e" stroke-width="0.6" opacity="0.6"/>
<line x1="274.82" y1="192.49" x2="274.82" y2="203.84" stroke="#5f4541" stroke-width="0.6" opacity="0.6"/>
<line x1="276.84" y1="200.23" x2="276.84" y2="204.03" stroke="#4d5b4e" stroke-width="0.6" opacity="0.6"/>
<line x1="278.87" y1="201.65" x2="278.87" y2="211.29" stroke="#5f4541" stroke-width="0.6" opacity="0.6"/>
<line x1="280.90" y1="204.37" x2="280.90" y2="211.95" stroke="#5f4541" stroke-width="0.6" opacity="0.6"/>
<line x1="282.92" y1="206.36" x2="282.92" y2="212.54" stroke="#4d5b4e" stroke-width="0.6" opacity="0.6"/>
<line x1="284.95" y1="198.03" x2="284.95" y2="208.14" stroke="#4d5b4e" stroke-width="0.6" opacity="0.6"/>
<line x1="286.97" y1="195.98" x2="286.97" y2="199.00" stroke="#5f4541" stroke-width="0.6" opacity="0.6"/>
<line x1="289.00" y1="193.69" x2="289.00" y2="200.82" stroke="#4d5b4e" stroke-width="0.6" opacity="0.6"/>
<line x1="291.03" y1="191.96" x2="291.03" y2="199.43" stroke="#5f4541" stroke-width="0.6" opacity="0.6"/>
<line x1="293.05" y1="200.03" x2="293.05" y2="205.51" stroke="#5f4541" stroke-width="0.6" opacity="0.6"/>
<line x1="295.08" y1="203.70" x2="295.08" y2="211.24" stroke="#4d5b4e" stroke-width="0.6" opacity="0.6"/>
<line x1="297.10" y1="202.33" x2="297.10" y2="208.33" stroke="#5f4541" stroke-width="0.6" opacity="0.6"/>
<line x1="299.13" y1="204.87" x2="299.13" y2="210.36" stroke="#5f4541" stroke-width="0.6" opacity="0.6"/>
<line x1="301.16" y1="205.76" x2="301.16" y2="209.88" stroke="#4d5b4e" stroke-width="0.6" opacity="0.6"/>
<line x1="303.18" y1="206.48" x2="303.18" y2="213.92" stroke="#4d5b4e" stroke-width="0.6" opacity="0.6"/>
<line x1="305.21" y1="203.47" x2="305.21" y2="215.44" stroke="#5f4541" stroke-width="0.6" opacity="0.6"/>
<line x1="307.23" y1="205.18" x2="307.23" y2="213.21" stroke="#4d5b4e" stroke-width="0.6" opacity="0.6"/>
<line x1="309.26" y1="198.47" x2="309.26" y2="206.39" stroke="#4d5b4e" stroke-width="0.6" opacity="0.6"/>
<line x1="311.29" y1="194.01" x2="311.29" y2="200.12" stroke="#5f4541" stroke-width="0.6" opacity="0.6"/>
<line x1="313.31" y1="195.89" x2="313.31" y2="201.71" stroke="#4d5b4e" stroke-width="0.6" opacity="0.6"/>
<line x1="315.34" y1="195.84" x2="315.34" y2="201.89" stroke="#4d5b4e" stroke-width="0.6" opacity="0.6"/>
<line x1="317.36" y1="195.41" x2="317.36" y2="203.37" stroke="#5f4541" stroke-width="0.6" opacity="0.6"/>
<line x1="319.39" y1="193.04" x2="319.39" y2="197.43" stroke="#5f4541" stroke-width="0.6" opacity="0.6"/>
<line x1="321.42" y1="188.99" x2="321.42" y2="194.89" stroke="#5f4541" stroke-width="0.6" opacity="0.6"/>
<line x1="323.44" y1="190.85" x2="323.44" y2="196.56" stroke="#5f4541" stroke-width="0.6" opacity="0.6"/>
<line x1="325.47" y1="194.19" x2="325.47" y2="200.14" stroke="#4d5b4e" stroke-width="0.6" opacity="0.6"/>
<line x1="327.49" y1="192.98" x2="327.49" y2="198.68" stroke="#5f4541" stroke-width="0.6" opacity="0.6"/>
<line x1="329.52" y1="199.02" x2="329.52" y2="204.04" stroke="#4d5b4e" stroke-width="0.6" opacity="0.6"/>
<line x1="331.55" y1="197.59" x2="331.55" y2="202.01" stroke="#4d5b4e" stroke-width="0.6" opacity="0.6"/>
<line x1="333.57" y1="191.69" x2="333.57" y2="196.86" stroke="#5f4541" stroke-width="0.6" opacity="0.6"/>
<line x1="335.60" y1="190.68" x2="335.60" y2="195.50" stroke="#4d5b4e" stroke-width="0.6" opacity="0.6"/>
<line x1="337.62" y1="185.68" x2="337.62" y2="194.73" stroke="#4d5b4e" stroke-width="0.6" opacity="0.6"/>
<line x1="339.65" y1="176.00" x2="339.65" y2="192.40" stroke="#4d5b4e" stroke-width="0.6" opacity="0.6"/>
<line x1="341.68" y1="185.87" x2="341.68" y2="194.83" stroke="#5f4541" stroke-width="0.6" opacity="0.6"/>
<line x1="343.70" y1="192.18" x2="343.70" y2="201.45" stroke="#5f4541" stroke-width="0.6" opacity="0.6"/>
<line x1="345.73" y1="193.75" x2="345.73" y2="201.80" stroke="#5f4541" stroke-width="0.6" opacity="0.6"/>
<line x1="347.75" y1="197.28" x2="347.75" y2="202.66" stroke="#5f4541" stroke-width="0.6" opacity="0.6"/>
<line x1="349.78" y1="194.48" x2="349.78" y2="202.36" stroke="#4d5b4e" stroke-width="0.6" opacity="0.6"/>
<line x1="351.81" y1="191.69" x2="351.81" y2="198.41" stroke="#5f4541" stroke-width="0.6" opacity="0.6"/>
<line x1="353.83" y1="190.18" x2="353.83" y2="198.09" stroke="#4d5b4e" stroke-width="0.6" opacity="0.6"/>
<line x1="355.86" y1="197.10" x2="355.86" y2="202.80" stroke="#4d5b4e" stroke-width="0.6" opacity="0.6"/>
<line x1="357.88" y1="198.66" x2="357.88" y2="204.07" stroke="#5f4541" stroke-width="0.6" opacity="0.6"/>
<line x1="359.91" y1="203.24" x2="359.91" y2="208.84" stroke="#4d5b4e" stroke-width="0.6" opacity="0.6"/>
<line x1="361.94" y1="202.19" x2="361.94" y2="207.92" stroke="#5f4541" stroke-width="0.6" opacity="0.6"/>
<line x1="363.96" y1="202.29" x2="363.96" y2="214.11" stroke="#5f4541" stroke-width="0.6" opacity="0.6"/>
<line x1="365.99" y1="210.84" x2="365.99" y2="215.18" stroke="#5f4541" stroke-width="0.6" opacity="0.6"/>
<line x1="368.01" y1="211.69" x2="368.01" y2="216.80" stroke="#5f4541" stroke-width="0.6" opacity="0.6"/>
<line x1="370.04" y1="212.76" x2="370.04" y2="220.36" stroke="#5f4541" stroke-width="0.6" opacity="0.6"/>
<line x1="372.07" y1="215.72" x2="372.07" y2="224.66" stroke="#5f4541" stroke-width="0.6" opacity="0.6"/>
<line x1="374.09" y1="220.75" x2="374.09" y2="223.92" stroke="#5f4541" stroke-width="0.6" opacity="0.6"/>
<line x1="376.12" y1="222.80" x2="376.12" y2="226.93" stroke="#4d5b4e" stroke-width="0.6" opacity="0.6"/>
<line x1="378.14" y1="223.05" x2="378.14" y2="235.11" stroke="#5f4541" stroke-width="0.6" opacity="0.6"/>
<line x1="380.17" y1="233.31" x2="380.17" y2="239.12" stroke="#5f4541" stroke-width="0.6" opacity="0.6"/>
<line x1="382.20" y1="235.42" x2="382.20" y2="238.78" stroke="#5f4541" stroke-width="0.6" opacity="0.6"/>
<line x1="384.22" y1="233.16" x2="384.22" y2="241.53" stroke="#5f4541" stroke-width="0.6" opacity="0.6"/>
<line x1="386.25" y1="237.09" x2="386.25" y2="244.54" stroke="#5f4541" stroke-width="0.6" opacity="0.6"/>
<line x1="388.27" y1="237.78" x2="388.27" y2="245.51" stroke="#4d5b4e" stroke-width="0.6" opacity="0.6"/>
<line x1="390.30" y1="240.18" x2="390.30" y2="244.27" stroke="#5f4541" stroke-width="0.6" opacity="0.6"/>
<line x1="392.33" y1="239.34" x2="392.33" y2="243.73" stroke="#5f4541" stroke-width="0.6" opacity="0.6"/>
<line x1="394.35" y1="242.00" x2="394.35" y2="246.00" stroke="#5f4541" stroke-width="0.6" opacity="0.6"/>
<line x1="396.38" y1="238.95" x2="396.38" y2="246.38" stroke="#5f4541" stroke-width="0.6" opacity="0.6"/>
<line x1="398.40" y1="243.22" x2="398.40" y2="248.23" stroke="#5f4541" stroke-width="0.6" opacity="0.6"/>
<line x1="400.43" y1="242.28" x2="400.43" y2="248.17" stroke="#4d5b4e" stroke-width="0.6" opacity="0.6"/>
<line x1="402.46" y1="240.56" x2="402.46" y2="246.08" stroke="#5f4541" stroke-width="0.6" opacity="0.6"/>
<line x1="404.48" y1="243.07" x2="404.48" y2="246.73" stroke="#5f4541" stroke-width="0.6" opacity="0.6"/>
<line x1="406.51" y1="242.61" x2="406.51" y2="249.66" stroke="#4d5b4e" stroke-width="0.6" opacity="0.6"/>
<line x1="408.53" y1="240.22" x2="408.53" y2="244.16" stroke="#4d5b4e" stroke-width="0.6" opacity="0.6"/>
<line x1="410.56" y1="239.58" x2="410.56" y2="284.00" stroke="#5f4541" stroke-width="0.6" opacity="0.6"/>
<line x1="412.59" y1="255.20" x2="412.59" y2="259.08" stroke="#4d5b4e" stroke-width="0.6" opacity="0.6"/>
<line x1="414.61" y1="250.46" x2="414.61" y2="258.47" stroke="#4d5b4e" stroke-width="0.6" opacity="0.6"/>
<line x1="416.64" y1="248.35" x2="416.64" y2="253.73" stroke="#5f4541" stroke-width="0.6" opacity="0.6"/>
<line x1="418.66" y1="248.31" x2="418.66" y2="254.00" stroke="#4d5b4e" stroke-width="0.6" opacity="0.6"/>
<line x1="420.69" y1="247.74" x2="420.69" y2="252.99" stroke="#5f4541" stroke-width="0.6" opacity="0.6"/>
<line x1="422.72" y1="249.09" x2="422.72" y2="252.74" stroke="#5f4541" stroke-width="0.6" opacity="0.6"/>
<line x1="424.74" y1="248.00" x2="424.74" y2="253.17" stroke="#4d5b4e" stroke-width="0.6" opacity="0.6"/>
<line x1="426.77" y1="248.02" x2="426.77" y2="253.22" stroke="#4d5b4e" stroke-width="0.6" opacity="0.6"/>
<line x1="428.79" y1="240.85" x2="428.79" y2="250.98" stroke="#4d5b4e" stroke-width="0.6" opacity="0.6"/>
<line x1="430.82" y1="232.15" x2="430.82" y2="244.04" stroke="#4d5b4e" stroke-width="0.6" opacity="0.6"/>
<line x1="432.85" y1="230.96" x2="432.85" y2="235.28" stroke="#4d5b4e" stroke-width="0.6" opacity="0.6"/>
<line x1="434.87" y1="230.71" x2="434.87" y2="234.66" stroke="#4d5b4e" stroke-width="0.6" opacity="0.6"/>
<line x1="436.90" y1="229.65" x2="436.90" y2="232.55" stroke="#5f4541" stroke-width="0.6" opacity="0.6"/>
<line x1="438.92" y1="231.26" x2="438.92" y2="236.05" stroke="#5f4541" stroke-width="0.6" opacity="0.6"/>
<line x1="440.95" y1="232.58" x2="440.95" y2="240.49" stroke="#5f4541" stroke-width="0.6" opacity="0.6"/>
<line x1="442.98" y1="234.56" x2="442.98" y2="238.74" stroke="#5f4541" stroke-width="0.6" opacity="0.6"/>
<line x1="445.00" y1="234.62" x2="445.00" y2="239.21" stroke="#5f4541" stroke-width="0.6" opacity="0.6"/>
<line x1="447.03" y1="237.33" x2="447.03" y2="242.33" stroke="#5f4541" stroke-width="0.6" opacity="0.6"/>
<line x1="449.05" y1="237.96" x2="449.05" y2="241.97" stroke="#5f4541" stroke-width="0.6" opacity="0.6"/>
<line x1="451.08" y1="238.60" x2="451.08" y2="250.80" stroke="#5f4541" stroke-width="0.6" opacity="0.6"/>
<line x1="453.11" y1="242.97" x2="453.11" y2="248.90" stroke="#5f4541" stroke-width="0.6" opacity="0.6"/>
<line x1="455.13" y1="244.94" x2="455.13" y2="251.31" stroke="#5f4541" stroke-width="0.6" opacity="0.6"/>
<line x1="457.16" y1="247.60" x2="457.16" y2="252.79" stroke="#4d5b4e" stroke-width="0.6" opacity="0.6"/>
<line x1="459.18" y1="244.93" x2="459.18" y2="251.75" stroke="#4d5b4e" stroke-width="0.6" opacity="0.6"/>
<line x1="461.21" y1="246.19" x2="461.21" y2="249.98" stroke="#5f4541" stroke-width="0.6" opacity="0.6"/>
<line x1="463.24" y1="249.61" x2="463.24" y2="254.89" stroke="#4d5b4e" stroke-width="0.6" opacity="0.6"/>
<line x1="465.26" y1="249.07" x2="465.26" y2="254.40" stroke="#5f4541" stroke-width="0.6" opacity="0.6"/>
<line x1="467.29" y1="252.97" x2="467.29" y2="260.85" stroke="#5f4541" stroke-width="0.6" opacity="0.6"/>
<line x1="469.31" y1="255.61" x2="469.31" y2="262.43" stroke="#5f4541" stroke-width="0.6" opacity="0.6"/>
<line x1="471.34" y1="260.97" x2="471.34" y2="268.88" stroke="#5f4541" stroke-width="0.6" opacity="0.6"/>
<line x1="473.37" y1="266.47" x2="473.37" y2="276.40" stroke="#5f4541" stroke-width="0.6" opacity="0.6"/>
<line x1="475.39" y1="272.17" x2="475.39" y2="280.46" stroke="#5f4541" stroke-width="0.6" opacity="0.6"/>
<line x1="477.42" y1="277.48" x2="477.42" y2="303.00" stroke="#5f4541" stroke-width="0.6" opacity="0.6"/>
<line x1="479.44" y1="277.95" x2="479.44" y2="282.95" stroke="#4d5b4e" stroke-width="0.6" opacity="0.6"/>
<line x1="481.47" y1="276.63" x2="481.47" y2="280.14" stroke="#4d5b4e" stroke-width="0.6" opacity="0.6"/>
<line x1="483.50" y1="271.60" x2="483.50" y2="278.62" stroke="#4d5b4e" stroke-width="0.6" opacity="0.6"/>
<line x1="485.52" y1="267.94" x2="485.52" y2="275.82" stroke="#4d5b4e" stroke-width="0.6" opacity="0.6"/>
<line x1="487.55" y1="266.87" x2="487.55" y2="274.24" stroke="#5f4541" stroke-width="0.6" opacity="0.6"/>
<line x1="489.57" y1="268.49" x2="489.57" y2="275.47" stroke="#5f4541" stroke-width="0.6" opacity="0.6"/>
<line x1="491.60" y1="273.13" x2="491.60" y2="279.91" stroke="#4d5b4e" stroke-width="0.6" opacity="0.6"/>
<line x1="493.63" y1="271.82" x2="493.63" y2="277.79" stroke="#5f4541" stroke-width="0.6" opacity="0.6"/>
<line x1="495.65" y1="273.89" x2="495.65" y2="277.15" stroke="#5f4541" stroke-width="0.6" opacity="0.6"/>
<line x1="497.68" y1="274.30" x2="497.68" y2="280.31" stroke="#5f4541" stroke-width="0.6" opacity="0.6"/>
<line x1="499.70" y1="275.12" x2="499.70" y2="279.88" stroke="#5f4541" stroke-width="0.6" opacity="0.6"/>
<line x1="501.73" y1="274.73" x2="501.73" y2="280.93" stroke="#4d5b4e" stroke-width="0.6" opacity="0.6"/>
<line x1="503.76" y1="272.98" x2="503.76" y2="279.02" stroke="#5f4541" stroke-width="0.6" opacity="0.6"/>
<line x1="505.78" y1="272.67" x2="505.78" y2="279.57" stroke="#4d5b4e" stroke-width="0.6" opacity="0.6"/>
<line x1="507.81" y1="269.43" x2="507.81" y2="276.08" stroke="#4d5b4e" stroke-width="0.6" opacity="0.6"/>
<line x1="509.83" y1="262.65" x2="509.83" y2="270.70" stroke="#4d5b4e" stroke-width="0.6" opacity="0.6"/>
<line x1="511.86" y1="260.65" x2="511.86" y2="266.76" stroke="#4d5b4e" stroke-width="0.6" opacity="0.6"/>
<line x1="513.89" y1="258.35" x2="513.89" y2="264.55" stroke="#4d5b4e" stroke-width="0.6" opacity="0.6"/>
<line x1="515.91" y1="257.59" x2="515.91" y2="264.94" stroke="#4d5b4e" stroke-width="0.6" opacity="0.6"/>
<line x1="517.94" y1="258.17" x2="517.94" y2="266.54" stroke="#5f4541" stroke-width="0.6" opacity="0.6"/>
<line x1="519.96" y1="265.13" x2="519.96" y2="272.52" stroke="#5f4541" stroke-width="0.6" opacity="0.6"/>
<line x1="521.99" y1="266.72" x2="521.99" y2="272.07" stroke="#5f4541" stroke-width="0.6" opacity="0.6"/>
<line x1="524.02" y1="267.79" x2="524.02" y2="273.71" stroke="#4d5b4e" stroke-width="0.6" opacity="0.6"/>
<line x1="526.04" y1="268.35" x2="526.04" y2="273.21" stroke="#5f4541" stroke-width="0.6" opacity="0.6"/>
<line x1="528.07" y1="266.77" x2="528.07" y2="274.04" stroke="#5f4541" stroke-width="0.6" opacity="0.6"/>
<line x1="530.09" y1="271.81" x2="530.09" y2="277.21" stroke="#4d5b4e" stroke-width="0.6" opacity="0.6"/>
<line x1="532.12" y1="271.10" x2="532.12" y2="278.82" stroke="#5f4541" stroke-width="0.6" opacity="0.6"/>
<line x1="534.15" y1="274.34" x2="534.15" y2="279.21" stroke="#5f4541" stroke-width="0.6" opacity="0.6"/>
<line x1="536.17" y1="273.56" x2="536.17" y2="278.49" stroke="#4d5b4e" stroke-width="0.6" opacity="0.6"/>
<line x1="538.20" y1="272.79" x2="538.20" y2="279.60" stroke="#5f4541" stroke-width="0.6" opacity="0.6"/>
<line x1="540.22" y1="275.95" x2="540.22" y2="282.47" stroke="#5f4541" stroke-width="0.6" opacity="0.6"/>
<line x1="542.25" y1="277.26" x2="542.25" y2="283.50" stroke="#5f4541" stroke-width="0.6" opacity="0.6"/>
<line x1="544.28" y1="278.13" x2="544.28" y2="284.93" stroke="#4d5b4e" stroke-width="0.6" opacity="0.6"/>
<line x1="546.30" y1="277.33" x2="546.30" y2="285.58" stroke="#4d5b4e" stroke-width="0.6" opacity="0.6"/>
<line x1="548.33" y1="278.82" x2="548.33" y2="283.31" stroke="#4d5b4e" stroke-width="0.6" opacity="0.6"/>
<line x1="550.35" y1="275.73" x2="550.35" y2="279.59" stroke="#4d5b4e" stroke-width="0.6" opacity="0.6"/>
<line x1="552.38" y1="277.80" x2="552.38" y2="282.42" stroke="#4d5b4e" stroke-width="0.6" opacity="0.6"/>
<line x1="554.41" y1="273.25" x2="554.41" y2="280.87" stroke="#4d5b4e" stroke-width="0.6" opacity="0.6"/>
<line x1="556.43" y1="271.92" x2="556.43" y2="275.08" stroke="#4d5b4e" stroke-width="0.6" opacity="0.6"/>
<line x1="558.46" y1="269.86" x2="558.46" y2="279.62" stroke="#5f4541" stroke-width="0.6" opacity="0.6"/>
<line x1="560.48" y1="274.40" x2="560.48" y2="278.48" stroke="#4d5b4e" stroke-width="0.6" opacity="0.6"/>
<line x1="562.51" y1="273.54" x2="562.51" y2="277.92" stroke="#5f4541" stroke-width="0.6" opacity="0.6"/>
<line x1="564.54" y1="274.56" x2="564.54" y2="278.27" stroke="#4d5b4e" stroke-width="0.6" opacity="0.6"/>
<line x1="566.56" y1="271.37" x2="566.56" y2="277.09" stroke="#4d5b4e" stroke-width="0.6" opacity="0.6"/>
<line x1="568.59" y1="268.84" x2="568.59" y2="275.62" stroke="#4d5b4e" stroke-width="0.6" opacity="0.6"/>
<line x1="570.61" y1="266.03" x2="570.61" y2="274.26" stroke="#4d5b4e" stroke-width="0.6" opacity="0.6"/>
<line x1="572.64" y1="262.91" x2="572.64" y2="268.82" stroke="#4d5b4e" stroke-width="0.6" opacity="0.6"/>
<line x1="574.67" y1="264.47" x2="574.67" y2="268.42" stroke="#4d5b4e" stroke-width="0.6" opacity="0.6"/>
<line x1="576.69" y1="262.70" x2="576.69" y2="265.98" stroke="#4d5b4e" stroke-width="0.6" opacity="0.6"/>
<line x1="578.72" y1="262.20" x2="578.72" y2="267.40" stroke="#5f4541" stroke-width="0.6" opacity="0.6"/>
<line x1="580.74" y1="252.76" x2="580.74" y2="266.10" stroke="#4d5b4e" stroke-width="0.6" opacity="0.6"/>
<line x1="582.77" y1="216.00" x2="582.77" y2="258.00" stroke="#4d5b4e" stroke-width="0.6" opacity="0.6"/>
<line x1="584.80" y1="218.00" x2="584.80" y2="231.95" stroke="#5f4541" stroke-width="0.6" opacity="0.6"/>
<line x1="586.82" y1="226.13" x2="586.82" y2="232.79" stroke="#5f4541" stroke-width="0.6" opacity="0.6"/>
<line x1="588.85" y1="225.71" x2="588.85" y2="244.70" stroke="#5f4541" stroke-width="0.6" opacity="0.6"/>
<line x1="590.87" y1="241.54" x2="590.87" y2="249.74" stroke="#5f4541" stroke-width="0.6" opacity="0.6"/>
<line x1="592.90" y1="245.52" x2="592.90" y2="254.72" stroke="#4d5b4e" stroke-width="0.6" opacity="0.6"/>
<line x1="594.93" y1="245.62" x2="594.93" y2="249.63" stroke="#5f4541" stroke-width="0.6" opacity="0.6"/>
<line x1="596.95" y1="246.97" x2="596.95" y2="253.95" stroke="#4d5b4e" stroke-width="0.6" opacity="0.6"/>
<line x1="598.98" y1="244.89" x2="598.98" y2="250.56" stroke="#4d5b4e" stroke-width="0.6" opacity="0.6"/>
<line x1="601.00" y1="242.44" x2="601.00" y2="248.02" stroke="#4d5b4e" stroke-width="0.6" opacity="0.6"/>
<line x1="603.03" y1="236.02" x2="603.03" y2="244.16" stroke="#5f4541" stroke-width="0.6" opacity="0.6"/>
<line x1="605.06" y1="240.55" x2="605.06" y2="246.64" stroke="#4d5b4e" stroke-width="0.6" opacity="0.6"/>
<line x1="607.08" y1="238.32" x2="607.08" y2="245.35" stroke="#4d5b4e" stroke-width="0.6" opacity="0.6"/>
<line x1="609.11" y1="239.54" x2="609.11" y2="245.74" stroke="#4d5b4e" stroke-width="0.6" opacity="0.6"/>
<line x1="611.13" y1="233.42" x2="611.13" y2="240.63" stroke="#5f4541" stroke-width="0.6" opacity="0.6"/>
<line x1="613.16" y1="234.68" x2="613.16" y2="240.29" stroke="#5f4541" stroke-width="0.6" opacity="0.6"/>
<line x1="615.19" y1="236.03" x2="615.19" y2="243.19" stroke="#4d5b4e" stroke-width="0.6" opacity="0.6"/>
<line x1="617.21" y1="230.25" x2="617.21" y2="236.00" stroke="#5f4541" stroke-width="0.6" opacity="0.6"/>
<line x1="619.24" y1="231.66" x2="619.24" y2="240.92" stroke="#4d5b4e" stroke-width="0.6" opacity="0.6"/>
<line x1="621.26" y1="233.96" x2="621.26" y2="238.08" stroke="#5f4541" stroke-width="0.6" opacity="0.6"/>
<line x1="623.29" y1="230.75" x2="623.29" y2="235.98" stroke="#5f4541" stroke-width="0.6" opacity="0.6"/>
<line x1="625.32" y1="228.90" x2="625.32" y2="234.59" stroke="#4d5b4e" stroke-width="0.6" opacity="0.6"/>
<line x1="627.34" y1="230.91" x2="627.34" y2="234.19" stroke="#5f4541" stroke-width="0.6" opacity="0.6"/>
<line x1="629.37" y1="229.92" x2="629.37" y2="241.08" stroke="#5f4541" stroke-width="0.6" opacity="0.6"/>
<line x1="631.39" y1="239.20" x2="631.39" y2="243.28" stroke="#4d5b4e" stroke-width="0.6" opacity="0.6"/>
<line x1="633.42" y1="238.21" x2="633.42" y2="246.42" stroke="#4d5b4e" stroke-width="0.6" opacity="0.6"/>
<line x1="635.45" y1="236.55" x2="635.45" y2="243.76" stroke="#5f4541" stroke-width="0.6" opacity="0.6"/>
<line x1="637.47" y1="240.01" x2="637.47" y2="244.55" stroke="#4d5b4e" stroke-width="0.6" opacity="0.6"/>
<line x1="639.50" y1="239.91" x2="639.50" y2="248.47" stroke="#5f4541" stroke-width="0.6" opacity="0.6"/>
<line x1="641.52" y1="243.24" x2="641.52" y2="252.67" stroke="#4d5b4e" stroke-width="0.6" opacity="0.6"/>
<line x1="643.55" y1="240.50" x2="643.55" y2="247.49" stroke="#4d5b4e" stroke-width="0.6" opacity="0.6"/>
<line x1="645.58" y1="234.90" x2="645.58" y2="245.96" stroke="#4d5b4e" stroke-width="0.6" opacity="0.6"/>
<line x1="647.60" y1="233.19" x2="647.60" y2="240.16" stroke="#4d5b4e" stroke-width="0.6" opacity="0.6"/>
<line x1="649.63" y1="228.53" x2="649.63" y2="237.52" stroke="#4d5b4e" stroke-width="0.6" opacity="0.6"/>
<line x1="651.65" y1="231.63" x2="651.65" y2="240.17" stroke="#4d5b4e" stroke-width="0.6" opacity="0.6"/>
<line x1="653.68" y1="231.15" x2="653.68" y2="237.33" stroke="#5f4541" stroke-width="0.6" opacity="0.6"/>
<line x1="655.71" y1="234.01" x2="655.71" y2="243.19" stroke="#4d5b4e" stroke-width="0.6" opacity="0.6"/>
<line x1="657.73" y1="234.84" x2="657.73" y2="243.45" stroke="#5f4541" stroke-width="0.6" opacity="0.6"/>
<line x1="659.76" y1="235.62" x2="659.76" y2="243.97" stroke="#5f4541" stroke-width="0.6" opacity="0.6"/>
<line x1="661.78" y1="238.99" x2="661.78" y2="245.42" stroke="#5f4541" stroke-width="0.6" opacity="0.6"/>
<line x1="663.81" y1="238.54" x2="663.81" y2="246.84" stroke="#4d5b4e" stroke-width="0.6" opacity="0.6"/>
<line x1="665.84" y1="231.01" x2="665.84" y2="242.25" stroke="#4d5b4e" stroke-width="0.6" opacity="0.6"/>
<line x1="667.86" y1="231.97" x2="667.86" y2="237.10" stroke="#4d5b4e" stroke-width="0.6" opacity="0.6"/>
<rect x="4.51" y="296.50" width="1.7" height="14.50" fill="#5f4541"/>
<rect x="6.54" y="310.27" width="1.7" height="1.57" fill="#4d5b4e"/>
<rect x="8.56" y="311.51" width="1.7" height="1.90" fill="#4d5b4e"/>
<rect x="10.59" y="308.79" width="1.7" height="1.45" fill="#5f4541"/>
<rect x="12.61" y="309.25" width="1.7" height="1.16" fill="#4d5b4e"/>
<rect x="14.64" y="305.19" width="1.7" height="4.84" fill="#4d5b4e"/>
<rect x="16.67" y="303.47" width="1.7" height="1.65" fill="#4d5b4e"/>
<rect x="18.69" y="302.65" width="1.7" height="1.65" fill="#4d5b4e"/>
<rect x="20.72" y="301.68" width="1.7" height="1.93" fill="#5f4541"/>
<rect x="22.74" y="301.09" width="1.7" height="1.34" fill="#5f4541"/>
<rect x="24.77" y="303.17" width="1.7" height="1.55" fill="#4d5b4e"/>
<rect x="26.80" y="302.32" width="1.7" height="3.74" fill="#5f4541"/>
<rect x="28.82" y="305.24" width="1.7" height="2.07" fill="#5f4541"/>
<rect x="30.85" y="305.99" width="1.7" height="2.02" fill="#5f4541"/>
<rect x="32.87" y="306.05" width="1.7" height="2.07" fill="#5f4541"/>
<rect x="34.90" y="305.75" width="1.7" height="3.01" fill="#4d5b4e"/>
<rect x="36.93" y="306.03" width="1.7" height="1.32" fill="#5f4541"/>
<rect x="38.95" y="307.71" width="1.7" height="4.50" fill="#5f4541"/>
<rect x="40.98" y="312.56" width="1.7" height="5.02" fill="#5f4541"/>
<rect x="43.00" y="316.40" width="1.7" height="2.69" fill="#5f4541"/>
<rect x="45.03" y="318.10" width="1.7" height="1.20" fill="#5f4541"/>
<rect x="47.06" y="320.04" width="1.7" height="3.41" fill="#5f4541"/>
<rect x="49.08" y="324.41" width="1.7" height="1.63" fill="#4d5b4e"/>
<rect x="51.11" y="319.01" width="1.7" height="5.32" fill="#4d5b4e"/>
<rect x="53.13" y="316.73" width="1.7" height="1.87" fill="#5f4541"/>
<rect x="55.16" y="316.87" width="1.7" height="2.29" fill="#4d5b4e"/>
<rect x="57.19" y="316.67" width="1.7" height="1.09" fill="#4d5b4e"/>
<rect x="59.21" y="317.04" width="1.7" height="2.09" fill="#5f4541"/>
<rect x="61.24" y="319.21" width="1.7" height="1.40" fill="#4d5b4e"/>
<rect x="63.26" y="317.54" width="1.7" height="3.89" fill="#5f4541"/>
<rect x="65.29" y="320.31" width="1.7" height="1.28" fill="#4d5b4e"/>
<rect x="67.32" y="320.80" width="1.7" height="2.03" fill="#4d5b4e"/>
<rect x="69.34" y="318.77" width="1.7" height="2.06" fill="#5f4541"/>
<rect x="71.37" y="320.95" width="1.7" height="1.84" fill="#4d5b4e"/>
<rect x="73.39" y="320.11" width="1.7" height="1.24" fill="#4d5b4e"/>
<rect x="75.42" y="319.17" width="1.7" height="4.22" fill="#5f4541"/>
<rect x="77.45" y="324.17" width="1.7" height="3.21" fill="#5f4541"/>
<rect x="79.47" y="327.47" width="1.7" height="2.81" fill="#5f4541"/>
<rect x="81.50" y="328.75" width="1.7" height="2.07" fill="#5f4541"/>
<rect x="83.52" y="329.42" width="1.7" height="1.86" fill="#4d5b4e"/>
<rect x="85.55" y="326.41" width="1.7" height="2.03" fill="#4d5b4e"/>
<rect x="87.58" y="326.20" width="1.7" height="1.73" fill="#4d5b4e"/>
<rect x="89.60" y="325.46" width="1.7" height="1.54" fill="#5f4541"/>
<rect x="91.63" y="326.31" width="1.7" height="1.71" fill="#4d5b4e"/>
<rect x="93.65" y="325.46" width="1.7" height="1.76" fill="#4d5b4e"/>
<rect x="95.68" y="325.73" width="1.7" height="2.35" fill="#5f4541"/>
<rect x="97.71" y="327.16" width="1.7" height="1.72" fill="#5f4541"/>
<rect x="99.73" y="326.37" width="1.7" height="1.72" fill="#5f4541"/>
<rect x="101.76" y="327.36" width="1.7" height="1.26" fill="#4d5b4e"/>
<rect x="103.78" y="328.99" width="1.7" height="1.65" fill="#4d5b4e"/>
<rect x="105.81" y="330.16" width="1.7" height="1.52" fill="#4d5b4e"/>
<rect x="107.84" y="327.47" width="1.7" height="3.39" fill="#4d5b4e"/>
<rect x="109.86" y="327.99" width="1.7" height="1.23" fill="#4d5b4e"/>
<rect x="111.89" y="326.68" width="1.7" height="1.97" fill="#4d5b4e"/>
<rect x="113.91" y="324.68" width="1.7" height="2.69" fill="#4d5b4e"/>
<rect x="115.94" y="324.89" width="1.7" height="1.33" fill="#4d5b4e"/>
<rect x="117.97" y="321.87" width="1.7" height="2.60" fill="#4d5b4e"/>
<rect x="119.99" y="318.69" width="1.7" height="1.76" fill="#5f4541"/>
<rect x="122.02" y="318.23" width="1.7" height="2.44" fill="#4d5b4e"/>
<rect x="124.04" y="318.05" width="1.7" height="2.52" fill="#5f4541"/>
<rect x="126.07" y="318.31" width="1.7" height="1.96" fill="#4d5b4e"/>
<rect x="128.10" y="318.52" width="1.7" height="1.74" fill="#4d5b4e"/>
<rect x="130.12" y="317.51" width="1.7" height="1.19" fill="#5f4541"/>
<rect x="132.15" y="317.37" width="1.7" height="2.91" fill="#4d5b4e"/>
<rect x="134.17" y="317.29" width="1.7" height="2.18" fill="#5f4541"/>
<rect x="136.20" y="317.32" width="1.7" height="2.09" fill="#4d5b4e"/>
<rect x="138.23" y="317.19" width="1.7" height="1.82" fill="#5f4541"/>
<rect x="140.25" y="319.08" width="1.7" height="1.67" fill="#5f4541"/>
<rect x="142.28" y="321.49" width="1.7" height="1.59" fill="#5f4541"/>
<rect x="144.30" y="321.41" width="1.7" height="1.98" fill="#4d5b4e"/>
<rect x="146.33" y="319.50" width="1.7" height="2.25" fill="#4d5b4e"/>
<rect x="148.36" y="313.81" width="1.7" height="5.23" fill="#4d5b4e"/>
<rect x="150.38" y="297.66" width="1.7" height="15.15" fill="#4d5b4e"/>
<rect x="152.41" y="292.38" width="1.7" height="3.82" fill="#4d5b4e"/>
<rect x="154.43" y="279.45" width="1.7" height="10.91" fill="#4d5b4e"/>
<rect x="156.46" y="248.09" width="1.7" height="32.58" fill="#4d5b4e"/>
<rect x="158.49" y="214.92" width="1.7" height="32.05" fill="#4d5b4e"/>
<rect x="160.51" y="203.00" width="1.7" height="22.00" fill="#4d5b4e"/>
<rect x="162.54" y="151.00" width="1.7" height="52.00" fill="#4d5b4e"/>
<rect x="164.56" y="151.00" width="1.7" height="2.40" fill="#5f4541"/>
<rect x="166.59" y="152.70" width="1.7" height="7.10" fill="#5f4541"/>
<rect x="168.62" y="158.40" width="1.7" height="9.20" fill="#5f4541"/>
<rect x="170.64" y="153.40" width="1.7" height="13.60" fill="#4d5b4e"/>
<rect x="172.67" y="152.00" width="1.7" height="6.00" fill="#4d5b4e"/>
<rect x="174.69" y="154.90" width="1.7" height="7.70" fill="#5f4541"/>
<rect x="176.72" y="158.40" width="1.7" height="4.90" fill="#5f4541"/>
<rect x="178.75" y="161.20" width="1.7" height="2.80" fill="#5f4541"/>
<rect x="180.77" y="162.60" width="1.7" height="2.90" fill="#5f4541"/>
<rect x="182.80" y="164.00" width="1.7" height="4.30" fill="#5f4541"/>
<rect x="184.82" y="165.50" width="1.7" height="8.50" fill="#5f4541"/>
<rect x="186.85" y="174.00" width="1.7" height="21.90" fill="#5f4541"/>
<rect x="188.88" y="185.00" width="1.7" height="11.60" fill="#5f4541"/>
<rect x="190.90" y="186.00" width="1.7" height="10.00" fill="#4d5b4e"/>
<rect x="192.93" y="188.00" width="1.7" height="10.00" fill="#5f4541"/>
<rect x="194.95" y="183.80" width="1.7" height="4.20" fill="#4d5b4e"/>
<rect x="196.98" y="186.00" width="1.7" height="2.00" fill="#4d5b4e"/>
<rect x="199.01" y="186.00" width="1.7" height="3.50" fill="#5f4541"/>
<rect x="201.03" y="182.40" width="1.7" height="4.30" fill="#4d5b4e"/>
<rect x="203.06" y="179.60" width="1.7" height="3.40" fill="#4d5b4e"/>
<rect x="205.08" y="175.40" width="1.7" height="5.60" fill="#4d5b4e"/>
<rect x="207.11" y="169.70" width="1.7" height="5.70" fill="#4d5b4e"/>
<rect x="209.14" y="166.90" width="1.7" height="5.60" fill="#4d5b4e"/>
<rect x="211.16" y="165.70" width="1.7" height="4.70" fill="#4d5b4e"/>
<rect x="213.19" y="165.70" width="1.7" height="3.30" fill="#5f4541"/>
<rect x="215.21" y="170.70" width="1.7" height="3.30" fill="#5f4541"/>
<rect x="217.24" y="171.00" width="1.7" height="3.00" fill="#5f4541"/>
<rect x="219.27" y="171.50" width="1.7" height="8.30" fill="#5f4541"/>
<rect x="221.29" y="179.80" width="1.7" height="10.70" fill="#5f4541"/>
<rect x="223.32" y="185.60" width="1.7" height="4.90" fill="#5f4541"/>
<rect x="225.34" y="183.90" width="1.7" height="5.80" fill="#4d5b4e"/>
<rect x="227.37" y="184.80" width="1.7" height="3.20" fill="#4d5b4e"/>
<rect x="229.40" y="182.30" width="1.7" height="3.30" fill="#4d5b4e"/>
<rect x="231.42" y="179.80" width="1.7" height="4.10" fill="#4d5b4e"/>
<rect x="233.45" y="179.00" width="1.7" height="2.40" fill="#4d5b4e"/>
<rect x="235.47" y="180.60" width="1.7" height="3.30" fill="#5f4541"/>
<rect x="237.50" y="181.40" width="1.7" height="3.40" fill="#5f4541"/>
<rect x="239.53" y="182.30" width="1.7" height="3.30" fill="#5f4541"/>
<rect x="241.55" y="183.10" width="1.7" height="15.70" fill="#5f4541"/>
<rect x="243.58" y="197.10" width="1.7" height="22.40" fill="#5f4541"/>
<rect x="245.60" y="209.50" width="1.7" height="8.30" fill="#4d5b4e"/>
<rect x="247.63" y="209.50" width="1.7" height="5.00" fill="#5f4541"/>
<rect x="249.66" y="210.00" width="1.7" height="4.00" fill="#5f4541"/>
<rect x="251.68" y="210.00" width="1.7" height="4.00" fill="#5f4541"/>
<rect x="253.71" y="209.50" width="1.7" height="4.20" fill="#4d5b4e"/>
<rect x="255.73" y="188.00" width="1.7" height="21.50" fill="#4d5b4e"/>
<rect x="257.76" y="185.60" width="1.7" height="5.80" fill="#4d5b4e"/>
<rect x="259.79" y="185.60" width="1.7" height="4.10" fill="#4d5b4e"/>
<rect x="261.81" y="183.90" width="1.7" height="4.10" fill="#4d5b4e"/>
<rect x="263.84" y="187.20" width="1.7" height="5.80" fill="#5f4541"/>
<rect x="265.86" y="188.80" width="1.7" height="4.87" fill="#4d5b4e"/>
<rect x="267.89" y="189.02" width="1.7" height="9.06" fill="#5f4541"/>
<rect x="269.92" y="196.37" width="1.7" height="3.54" fill="#4d5b4e"/>
<rect x="271.94" y="193.24" width="1.7" height="4.02" fill="#4d5b4e"/>
<rect x="273.97" y="193.24" width="1.7" height="9.42" fill="#5f4541"/>
<rect x="275.99" y="201.66" width="1.7" height="1.77" fill="#4d5b4e"/>
<rect x="278.02" y="202.20" width="1.7" height="7.61" fill="#5f4541"/>
<rect x="280.05" y="207.23" width="1.7" height="2.52" fill="#5f4541"/>
<rect x="282.07" y="209.49" width="1.7" height="2.40" fill="#4d5b4e"/>
<rect x="284.10" y="200.04" width="1.7" height="7.75" fill="#4d5b4e"/>
<rect x="286.12" y="196.42" width="1.7" height="2.21" fill="#5f4541"/>
<rect x="288.15" y="195.18" width="1.7" height="2.99" fill="#4d5b4e"/>
<rect x="290.18" y="195.04" width="1.7" height="3.52" fill="#5f4541"/>
<rect x="292.20" y="200.40" width="1.7" height="2.64" fill="#5f4541"/>
<rect x="294.23" y="204.14" width="1.7" height="2.60" fill="#4d5b4e"/>
<rect x="296.25" y="203.51" width="1.7" height="2.67" fill="#5f4541"/>
<rect x="298.28" y="205.66" width="1.7" height="3.06" fill="#5f4541"/>
<rect x="300.31" y="207.04" width="1.7" height="2.40" fill="#4d5b4e"/>
<rect x="302.33" y="209.57" width="1.7" height="1.87" fill="#4d5b4e"/>
<rect x="304.36" y="208.15" width="1.7" height="3.10" fill="#5f4541"/>
<rect x="306.38" y="206.21" width="1.7" height="5.00" fill="#4d5b4e"/>
<rect x="308.41" y="200.62" width="1.7" height="5.29" fill="#4d5b4e"/>
<rect x="310.44" y="196.11" width="1.7" height="3.25" fill="#5f4541"/>
<rect x="312.46" y="197.42" width="1.7" height="2.44" fill="#4d5b4e"/>
<rect x="314.49" y="197.31" width="1.7" height="2.19" fill="#4d5b4e"/>
<rect x="316.51" y="196.45" width="1.7" height="2.26" fill="#5f4541"/>
<rect x="318.54" y="193.40" width="1.7" height="2.91" fill="#5f4541"/>
<rect x="320.57" y="189.80" width="1.7" height="3.37" fill="#5f4541"/>
<rect x="322.59" y="191.93" width="1.7" height="2.79" fill="#5f4541"/>
<rect x="324.62" y="195.93" width="1.7" height="3.13" fill="#4d5b4e"/>
<rect x="326.64" y="194.67" width="1.7" height="3.37" fill="#5f4541"/>
<rect x="328.67" y="200.24" width="1.7" height="2.81" fill="#4d5b4e"/>
<rect x="330.70" y="198.00" width="1.7" height="3.22" fill="#4d5b4e"/>
<rect x="332.72" y="193.08" width="1.7" height="2.72" fill="#5f4541"/>
<rect x="334.75" y="192.34" width="1.7" height="2.37" fill="#4d5b4e"/>
<rect x="336.77" y="188.31" width="1.7" height="4.91" fill="#4d5b4e"/>
<rect x="338.80" y="188.20" width="1.7" height="2.76" fill="#4d5b4e"/>
<rect x="340.83" y="190.64" width="1.7" height="3.12" fill="#5f4541"/>
<rect x="342.85" y="193.66" width="1.7" height="3.70" fill="#5f4541"/>
<rect x="344.88" y="195.55" width="1.7" height="2.92" fill="#5f4541"/>
<rect x="346.90" y="197.83" width="1.7" height="2.31" fill="#5f4541"/>
<rect x="348.93" y="197.77" width="1.7" height="2.86" fill="#4d5b4e"/>
<rect x="350.96" y="193.13" width="1.7" height="3.39" fill="#5f4541"/>
<rect x="352.98" y="194.80" width="1.7" height="2.69" fill="#4d5b4e"/>
<rect x="355.01" y="199.08" width="1.7" height="1.85" fill="#4d5b4e"/>
<rect x="357.03" y="200.34" width="1.7" height="2.96" fill="#5f4541"/>
<rect x="359.06" y="204.76" width="1.7" height="3.25" fill="#4d5b4e"/>
<rect x="361.09" y="204.23" width="1.7" height="2.44" fill="#5f4541"/>
<rect x="363.11" y="206.30" width="1.7" height="5.32" fill="#5f4541"/>
<rect x="365.14" y="211.63" width="1.7" height="2.79" fill="#5f4541"/>
<rect x="367.16" y="213.29" width="1.7" height="2.16" fill="#5f4541"/>
<rect x="369.19" y="214.18" width="1.7" height="3.57" fill="#5f4541"/>
<rect x="371.22" y="216.64" width="1.7" height="5.30" fill="#5f4541"/>
<rect x="373.24" y="221.13" width="1.7" height="2.23" fill="#5f4541"/>
<rect x="375.27" y="223.39" width="1.7" height="1.95" fill="#4d5b4e"/>
<rect x="377.29" y="224.38" width="1.7" height="9.92" fill="#5f4541"/>
<rect x="379.32" y="234.06" width="1.7" height="4.51" fill="#5f4541"/>
<rect x="381.35" y="235.75" width="1.7" height="1.98" fill="#5f4541"/>
<rect x="383.37" y="237.21" width="1.7" height="2.61" fill="#5f4541"/>
<rect x="385.40" y="237.57" width="1.7" height="5.92" fill="#5f4541"/>
<rect x="387.42" y="241.31" width="1.7" height="2.68" fill="#4d5b4e"/>
<rect x="389.45" y="241.33" width="1.7" height="1.72" fill="#5f4541"/>
<rect x="391.48" y="240.37" width="1.7" height="2.76" fill="#5f4541"/>
<rect x="393.50" y="242.35" width="1.7" height="2.46" fill="#5f4541"/>
<rect x="395.53" y="242.12" width="1.7" height="2.73" fill="#5f4541"/>
<rect x="397.55" y="244.69" width="1.7" height="1.96" fill="#5f4541"/>
<rect x="399.58" y="244.02" width="1.7" height="2.87" fill="#4d5b4e"/>
<rect x="401.61" y="241.94" width="1.7" height="2.27" fill="#5f4541"/>
<rect x="403.63" y="243.69" width="1.7" height="2.73" fill="#5f4541"/>
<rect x="405.66" y="243.91" width="1.7" height="2.80" fill="#4d5b4e"/>
<rect x="407.68" y="241.62" width="1.7" height="1.44" fill="#4d5b4e"/>
<rect x="409.71" y="240.90" width="1.7" height="17.27" fill="#5f4541"/>
<rect x="411.74" y="256.27" width="1.7" height="2.34" fill="#4d5b4e"/>
<rect x="413.76" y="250.78" width="1.7" height="6.33" fill="#4d5b4e"/>
<rect x="415.79" y="250.53" width="1.7" height="1.73" fill="#5f4541"/>
<rect x="417.81" y="251.14" width="1.7" height="2.53" fill="#4d5b4e"/>
<rect x="419.84" y="249.20" width="1.7" height="2.57" fill="#5f4541"/>
<rect x="421.87" y="249.54" width="1.7" height="1.94" fill="#5f4541"/>
<rect x="423.89" y="249.20" width="1.7" height="3.64" fill="#4d5b4e"/>
<rect x="425.92" y="248.80" width="1.7" height="1.78" fill="#4d5b4e"/>
<rect x="427.94" y="241.29" width="1.7" height="8.64" fill="#4d5b4e"/>
<rect x="429.97" y="234.32" width="1.7" height="7.35" fill="#4d5b4e"/>
<rect x="432.00" y="232.09" width="1.7" height="2.45" fill="#4d5b4e"/>
<rect x="434.02" y="231.91" width="1.7" height="1.97" fill="#4d5b4e"/>
<rect x="436.05" y="230.06" width="1.7" height="2.11" fill="#5f4541"/>
<rect x="438.07" y="232.24" width="1.7" height="3.47" fill="#5f4541"/>
<rect x="440.10" y="234.94" width="1.7" height="4.32" fill="#5f4541"/>
<rect x="442.13" y="235.96" width="1.7" height="2.07" fill="#5f4541"/>
<rect x="444.15" y="236.97" width="1.7" height="1.75" fill="#5f4541"/>
<rect x="446.18" y="238.68" width="1.7" height="3.22" fill="#5f4541"/>
<rect x="448.20" y="239.54" width="1.7" height="1.91" fill="#5f4541"/>
<rect x="450.23" y="240.52" width="1.7" height="7.96" fill="#5f4541"/>
<rect x="452.26" y="243.79" width="1.7" height="2.67" fill="#5f4541"/>
<rect x="454.28" y="245.77" width="1.7" height="4.77" fill="#5f4541"/>
<rect x="456.31" y="249.39" width="1.7" height="2.90" fill="#4d5b4e"/>
<rect x="458.33" y="247.29" width="1.7" height="3.72" fill="#4d5b4e"/>
<rect x="460.36" y="246.56" width="1.7" height="2.35" fill="#5f4541"/>
<rect x="462.39" y="250.69" width="1.7" height="2.62" fill="#4d5b4e"/>
<rect x="464.41" y="250.53" width="1.7" height="2.80" fill="#5f4541"/>
<rect x="466.44" y="253.51" width="1.7" height="5.52" fill="#5f4541"/>
<rect x="468.46" y="257.92" width="1.7" height="3.41" fill="#5f4541"/>
<rect x="470.49" y="261.66" width="1.7" height="6.88" fill="#5f4541"/>
<rect x="472.52" y="268.14" width="1.7" height="6.86" fill="#5f4541"/>
<rect x="474.54" y="274.71" width="1.7" height="4.59" fill="#5f4541"/>
<rect x="476.57" y="278.16" width="1.7" height="2.33" fill="#5f4541"/>
<rect x="478.59" y="279.22" width="1.7" height="2.45" fill="#4d5b4e"/>
<rect x="480.62" y="277.41" width="1.7" height="2.06" fill="#4d5b4e"/>
<rect x="482.65" y="271.91" width="1.7" height="6.11" fill="#4d5b4e"/>
<rect x="484.67" y="268.29" width="1.7" height="4.66" fill="#4d5b4e"/>
<rect x="486.70" y="268.71" width="1.7" height="3.67" fill="#5f4541"/>
<rect x="488.72" y="272.23" width="1.7" height="2.72" fill="#5f4541"/>
<rect x="490.75" y="275.03" width="1.7" height="2.36" fill="#4d5b4e"/>
<rect x="492.78" y="274.52" width="1.7" height="2.03" fill="#5f4541"/>
<rect x="494.80" y="275.03" width="1.7" height="1.56" fill="#5f4541"/>
<rect x="496.83" y="275.68" width="1.7" height="2.16" fill="#5f4541"/>
<rect x="498.85" y="277.02" width="1.7" height="2.53" fill="#5f4541"/>
<rect x="500.88" y="276.08" width="1.7" height="3.00" fill="#4d5b4e"/>
<rect x="502.91" y="275.30" width="1.7" height="2.66" fill="#5f4541"/>
<rect x="504.93" y="274.84" width="1.7" height="3.30" fill="#4d5b4e"/>
<rect x="506.96" y="270.43" width="1.7" height="4.91" fill="#4d5b4e"/>
<rect x="508.98" y="265.60" width="1.7" height="4.33" fill="#4d5b4e"/>
<rect x="511.01" y="262.23" width="1.7" height="3.39" fill="#4d5b4e"/>
<rect x="513.04" y="259.47" width="1.7" height="2.49" fill="#4d5b4e"/>
<rect x="515.06" y="260.10" width="1.7" height="1.99" fill="#4d5b4e"/>
<rect x="517.09" y="260.00" width="1.7" height="5.56" fill="#5f4541"/>
<rect x="519.11" y="266.04" width="1.7" height="5.90" fill="#5f4541"/>
<rect x="521.14" y="268.53" width="1.7" height="2.16" fill="#5f4541"/>
<rect x="523.17" y="269.62" width="1.7" height="1.84" fill="#4d5b4e"/>
<rect x="525.19" y="269.48" width="1.7" height="2.52" fill="#5f4541"/>
<rect x="527.22" y="269.99" width="1.7" height="2.45" fill="#5f4541"/>
<rect x="529.24" y="273.34" width="1.7" height="2.34" fill="#4d5b4e"/>
<rect x="531.27" y="273.62" width="1.7" height="4.14" fill="#5f4541"/>
<rect x="533.30" y="275.37" width="1.7" height="2.03" fill="#5f4541"/>
<rect x="535.32" y="275.78" width="1.7" height="2.16" fill="#4d5b4e"/>
<rect x="537.35" y="273.34" width="1.7" height="4.20" fill="#5f4541"/>
<rect x="539.37" y="278.38" width="1.7" height="2.17" fill="#5f4541"/>
<rect x="541.40" y="278.68" width="1.7" height="2.47" fill="#5f4541"/>
<rect x="543.43" y="279.97" width="1.7" height="1.70" fill="#4d5b4e"/>
<rect x="545.45" y="279.75" width="1.7" height="2.54" fill="#4d5b4e"/>
<rect x="547.48" y="279.50" width="1.7" height="2.02" fill="#4d5b4e"/>
<rect x="549.50" y="277.09" width="1.7" height="1.82" fill="#4d5b4e"/>
<rect x="551.53" y="278.75" width="1.7" height="2.59" fill="#4d5b4e"/>
<rect x="553.56" y="275.36" width="1.7" height="4.47" fill="#4d5b4e"/>
<rect x="555.58" y="272.57" width="1.7" height="1.65" fill="#4d5b4e"/>
<rect x="557.61" y="271.80" width="1.7" height="6.41" fill="#5f4541"/>
<rect x="559.63" y="274.94" width="1.7" height="2.54" fill="#4d5b4e"/>
<rect x="561.66" y="275.01" width="1.7" height="1.83" fill="#5f4541"/>
<rect x="563.69" y="275.28" width="1.7" height="2.48" fill="#4d5b4e"/>
<rect x="565.71" y="273.23" width="1.7" height="1.71" fill="#4d5b4e"/>
<rect x="567.74" y="270.29" width="1.7" height="2.49" fill="#4d5b4e"/>
<rect x="569.76" y="267.27" width="1.7" height="4.59" fill="#4d5b4e"/>
<rect x="571.79" y="265.31" width="1.7" height="3.05" fill="#4d5b4e"/>
<rect x="573.82" y="265.03" width="1.7" height="2.49" fill="#4d5b4e"/>
<rect x="575.84" y="263.47" width="1.7" height="1.96" fill="#4d5b4e"/>
<rect x="577.87" y="263.18" width="1.7" height="1.82" fill="#5f4541"/>
<rect x="579.89" y="256.00" width="1.7" height="7.00" fill="#4d5b4e"/>
<rect x="581.92" y="225.00" width="1.7" height="31.00" fill="#4d5b4e"/>
<rect x="583.95" y="225.00" width="1.7" height="4.50" fill="#5f4541"/>
<rect x="585.97" y="228.00" width="1.7" height="4.00" fill="#5f4541"/>
<rect x="588.00" y="231.00" width="1.7" height="13.00" fill="#5f4541"/>
<rect x="590.02" y="243.00" width="1.7" height="6.00" fill="#5f4541"/>
<rect x="592.05" y="247.57" width="1.7" height="2.96" fill="#4d5b4e"/>
<rect x="594.08" y="246.30" width="1.7" height="2.73" fill="#5f4541"/>
<rect x="596.10" y="248.66" width="1.7" height="3.43" fill="#4d5b4e"/>
<rect x="598.13" y="245.67" width="1.7" height="2.68" fill="#4d5b4e"/>
<rect x="600.15" y="243.45" width="1.7" height="2.91" fill="#4d5b4e"/>
<rect x="602.18" y="241.32" width="1.7" height="2.34" fill="#5f4541"/>
<rect x="604.21" y="241.59" width="1.7" height="2.42" fill="#4d5b4e"/>
<rect x="606.23" y="240.36" width="1.7" height="3.17" fill="#4d5b4e"/>
<rect x="608.26" y="242.06" width="1.7" height="2.19" fill="#4d5b4e"/>
<rect x="610.28" y="235.64" width="1.7" height="2.97" fill="#5f4541"/>
<rect x="612.31" y="235.99" width="1.7" height="2.23" fill="#5f4541"/>
<rect x="614.34" y="236.96" width="1.7" height="1.91" fill="#4d5b4e"/>
<rect x="616.36" y="231.87" width="1.7" height="3.29" fill="#5f4541"/>
<rect x="618.39" y="234.66" width="1.7" height="2.63" fill="#4d5b4e"/>
<rect x="620.41" y="235.16" width="1.7" height="2.39" fill="#5f4541"/>
<rect x="622.44" y="232.86" width="1.7" height="2.66" fill="#5f4541"/>
<rect x="624.47" y="231.28" width="1.7" height="2.77" fill="#4d5b4e"/>
<rect x="626.49" y="231.39" width="1.7" height="2.23" fill="#5f4541"/>
<rect x="628.52" y="233.68" width="1.7" height="3.78" fill="#5f4541"/>
<rect x="630.54" y="239.76" width="1.7" height="1.87" fill="#4d5b4e"/>
<rect x="632.57" y="239.33" width="1.7" height="3.26" fill="#4d5b4e"/>
<rect x="634.60" y="238.85" width="1.7" height="2.52" fill="#5f4541"/>
<rect x="636.62" y="240.37" width="1.7" height="3.61" fill="#4d5b4e"/>
<rect x="638.65" y="240.52" width="1.7" height="6.97" fill="#5f4541"/>
<rect x="640.67" y="245.38" width="1.7" height="3.84" fill="#4d5b4e"/>
<rect x="642.70" y="242.42" width="1.7" height="3.00" fill="#4d5b4e"/>
<rect x="644.73" y="237.21" width="1.7" height="5.85" fill="#4d5b4e"/>
<rect x="646.75" y="234.80" width="1.7" height="3.67" fill="#4d5b4e"/>
<rect x="648.78" y="231.86" width="1.7" height="4.27" fill="#4d5b4e"/>
<rect x="650.80" y="232.93" width="1.7" height="3.63" fill="#4d5b4e"/>
<rect x="652.83" y="232.72" width="1.7" height="3.37" fill="#5f4541"/>
<rect x="654.86" y="237.46" width="1.7" height="3.10" fill="#4d5b4e"/>
<rect x="656.88" y="236.58" width="1.7" height="6.55" fill="#5f4541"/>
<rect x="658.91" y="239.28" width="1.7" height="3.47" fill="#5f4541"/>
<rect x="660.93" y="240.62" width="1.7" height="3.86" fill="#5f4541"/>
<rect x="662.96" y="240.46" width="1.7" height="2.34" fill="#4d5b4e"/>
<rect x="664.99" y="234.41" width="1.7" height="6.45" fill="#4d5b4e"/>
<rect x="667.01" y="233.49" width="1.7" height="2.75" fill="#4d5b4e"/>
</g>
<!-- diagonal dashed -->
<line x1="153.8" y1="122.5" x2="729.6" y2="284.2" stroke="#8d817b" stroke-width="0.8" stroke-dasharray="1.6,1.6"/>
<!-- purple rectangle -->
<rect x="582" y="224.3" width="97" height="31.6" fill="#7d5ac4" fill-opacity="0.2"/>
<!-- dotted black line -->
<line x1="5" y1="152.5" x2="756" y2="152.5" stroke="#2c2624" stroke-width="0.9" stroke-dasharray="1,1.6"/>
<!-- vertical dotted arrow -->
<line x1="654.8" y1="153" x2="654.8" y2="224" stroke="#2c2624" stroke-width="0.9" stroke-dasharray="1,1.4"/>
<polyline points="652.3,156.2 654.8,153 657.6,156.2" fill="none" stroke="#2c2624" stroke-width="0.7"/>
<!-- U curve -->
<path d="M427.0,223.0 C427.8,224.3 430.2,228.0 432.0,231.0 C433.8,234.0 436.0,237.7 438.0,241.0 C440.0,244.3 441.7,247.5 444.0,251.0 C446.3,254.5 449.3,258.9 452.0,262.1 C454.7,265.3 457.0,267.6 460.0,270.1 C463.0,272.6 466.8,274.9 470.1,277.1 C473.5,279.3 476.8,281.3 480.1,283.1 C483.4,284.9 486.8,286.6 490.1,288.1 C493.5,289.6 496.9,291.2 500.2,292.2 C503.5,293.2 507.1,293.7 510.2,294.2 C513.2,294.7 515.0,295.3 518.5,295.3 C522.0,295.3 526.6,295.1 531.0,294.2 C535.4,293.3 541.0,291.5 545.0,290.2 C549.0,288.9 551.8,288.0 555.1,286.1 C558.5,284.2 561.8,281.4 565.1,279.1 C568.4,276.8 571.8,274.8 575.1,272.1 C578.4,269.4 581.8,266.3 585.1,263.1 C588.5,259.9 591.9,256.8 595.2,253.1 C598.6,249.4 602.2,244.8 605.2,241.1 C608.2,237.4 611.0,233.8 613.2,231.0 C615.4,228.2 617.4,225.2 618.2,224.0" fill="none" stroke="#1c1515" stroke-width="1.15"/>
<line x1="518.7" y1="295.3" x2="518.7" y2="223.5" stroke="#1a1414" stroke-width="1.1"/>
<polyline points="515.5,227.6 518.7,223.2 522.3,227.6" fill="none" stroke="#1a1414" stroke-width="1"/>
<text x="478" y="312.3" textLength="96.6" lengthAdjust="spacingAndGlyphs" style="font-size:10.4px;font-weight:bold;fill:#181414;">U shaped recovery</text>
<!-- last price tags -->
<rect x="727" y="230" width="28" height="5.8" fill="#d65b4d"/>
<text x="729" y="234.4" style="font-size:4.6px;fill:#f6e3dc">SHIBUSDT</text>
<rect x="756.6" y="229.2" width="37" height="12.3" fill="#dc5749"/>
<text x="760.3" y="235.1" style="font-size:5.6px;fill:#fbeee9">0.00001901</text>
<text x="760.8" y="240.4" style="font-size:5.5px;fill:#fbe1db">14:04:05</text>
<rect x="757" y="149.6" width="37" height="6" fill="#141414"/>
<text x="759.5" y="154.6" style="font-size:5.4px;fill:#f5f5f5">0.00003545</text>
<!-- time axis -->
<text x="35.75" y="403.2" text-anchor="middle" class="tax" style="font-weight:bold">2024</text><text x="98.75" y="403.2" text-anchor="middle" class="tax">Feb</text><text x="157.5" y="403.2" text-anchor="middle" class="tax">Mar</text><text x="220.5" y="403.2" text-anchor="middle" class="tax">Apr</text><text x="281" y="403.2" text-anchor="middle" class="tax">May</text><text x="344.5" y="403.2" text-anchor="middle" class="tax">Jun</text><text x="405.5" y="403.2" text-anchor="middle" class="tax">Jul</text><text x="468" y="403.2" text-anchor="middle" class="tax">Aug</text><text x="530.75" y="403.2" text-anchor="middle" class="tax">Sep</text><text x="592" y="403.2" text-anchor="middle" class="tax">Oct</text><text x="653.75" y="403.2" text-anchor="middle" class="tax">Nov</text>
<!-- logo -->
<rect x="688" y="373.8" width="39.3" height="28.8" fill="#ec1c24"/>
<g style="font-family:'Alexandria','Lalezar','DejaVu Sans',sans-serif;font-size:100px;font-weight:900;">
<text transform="translate(688.3,396.8) scale(0.202,0.2)" fill="#ffffff">نیوز</text>
<text transform="translate(753.9,393.3) scale(0.336,0.325)" fill="#ec1c24">و</text>
<text transform="translate(746.1,402.3) scale(0.316,0.317)" fill="#ec1c24">ا</text>
<text transform="translate(728.2,402.3) scale(0.26,0.317)" fill="#ec1c24">نا</text>
</g>
<text x="634" y="399.3" textLength="50" lengthAdjust="spacingAndGlyphs" style="font-family:'Vazirmatn','DejaVu Sans',sans-serif;font-size:5px;fill:#ffffff;opacity:0.75">پایگاه خبری تحلیلی وانا نیوز</text>
<!-- bottom TradingView -->
<g fill="#e8e9ee"><rect x="4.6" y="413.2" width="3.4" height="1.8"/><rect x="6.4" y="413.2" width="1.7" height="4.6"/><circle cx="9.35" cy="414.1" r="0.8"/><polygon points="11.4,413.2 13.4,413.2 11.6,417.8 10.0,417.8"/></g>
<text x="16.1" y="418" textLength="34.0" lengthAdjust="spacingAndGlyphs" class="hdr" style="font-size:6.4px;fill:#e2e3e8">TradingView</text>
</svg>
</body></html>
